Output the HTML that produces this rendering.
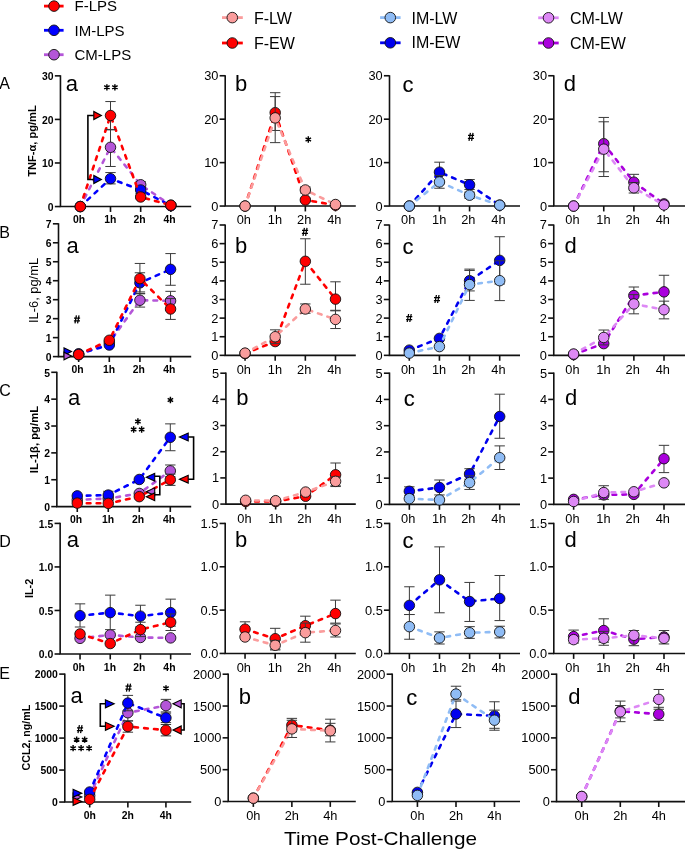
<!DOCTYPE html><html><head><meta charset="utf-8"><style>html,body{margin:0;padding:0;background:#fff;}svg{display:block;will-change:transform;} text{font-family:"Liberation Sans", sans-serif;fill:#000;}</style></head><body>
<svg width="685" height="849" viewBox="0 0 685 849">
<rect width="685" height="849" fill="#fff"/>
<line x1="44" y1="6.1" x2="63.6" y2="6.1" stroke="#ff0000" stroke-width="2.8"/>
<circle cx="54" cy="6.1" r="5.3" fill="#ff0000" stroke="#111" stroke-width="0.9"/>
<text x="74.5" y="11.4" font-size="15">F-LPS</text>
<line x1="44" y1="30.3" x2="63.6" y2="30.3" stroke="#0000ff" stroke-width="2.8"/>
<circle cx="54" cy="30.3" r="5.3" fill="#0000ff" stroke="#111" stroke-width="0.9"/>
<text x="74.5" y="35.6" font-size="15">IM-LPS</text>
<line x1="44" y1="54.7" x2="63.6" y2="54.7" stroke="#b456d8" stroke-width="2.8"/>
<circle cx="54" cy="54.7" r="5.3" fill="#b456d8" stroke="#111" stroke-width="0.9"/>
<text x="74.5" y="60" font-size="15">CM-LPS</text>
<line x1="222" y1="17.6" x2="242.8" y2="17.6" stroke="#fa9c9c" stroke-width="2.8"/>
<circle cx="232.3" cy="17.6" r="5.3" fill="#fa9c9c" stroke="#111" stroke-width="0.9"/>
<text x="253.9" y="23.8" font-size="16">F-LW</text>
<line x1="222" y1="43" x2="242.8" y2="43" stroke="#ff0000" stroke-width="2.8"/>
<circle cx="232.3" cy="43" r="5.3" fill="#ff0000" stroke="#111" stroke-width="0.9"/>
<text x="253.9" y="48.5" font-size="16">F-EW</text>
<line x1="380.1" y1="17.6" x2="400.6" y2="17.6" stroke="#8fbcf5" stroke-width="2.8"/>
<circle cx="390.3" cy="17.6" r="5.3" fill="#8fbcf5" stroke="#111" stroke-width="0.9"/>
<text x="411.5" y="23.8" font-size="16">IM-LW</text>
<line x1="380.1" y1="42.8" x2="400.6" y2="42.8" stroke="#0000ee" stroke-width="2.8"/>
<circle cx="390.3" cy="42.8" r="5.3" fill="#0000ee" stroke="#111" stroke-width="0.9"/>
<text x="411.5" y="48.3" font-size="16">IM-EW</text>
<line x1="538.2" y1="17.8" x2="558.7" y2="17.8" stroke="#dd88f5" stroke-width="2.8"/>
<circle cx="548.5" cy="17.8" r="5.3" fill="#dd88f5" stroke="#111" stroke-width="0.9"/>
<text x="569.9" y="24" font-size="16">CM-LW</text>
<line x1="538.2" y1="43" x2="558.7" y2="43" stroke="#aa00dd" stroke-width="2.8"/>
<circle cx="548.5" cy="43" r="5.3" fill="#aa00dd" stroke="#111" stroke-width="0.9"/>
<text x="569.9" y="48.5" font-size="16">CM-EW</text>
<path d="M60.45 75.25V206.55H191.2" fill="none" stroke="#111" stroke-width="1.6"/>
<line x1="54.85" y1="206.55" x2="60.45" y2="206.55" stroke="#111" stroke-width="1.6"/>
<text x="53.55" y="210.79" font-size="10.4" font-weight="bold" text-anchor="end">0</text>
<line x1="54.85" y1="162.98" x2="60.45" y2="162.98" stroke="#111" stroke-width="1.6"/>
<text x="53.55" y="167.22" font-size="10.4" font-weight="bold" text-anchor="end">10</text>
<line x1="54.85" y1="119.42" x2="60.45" y2="119.42" stroke="#111" stroke-width="1.6"/>
<text x="53.55" y="123.66" font-size="10.4" font-weight="bold" text-anchor="end">20</text>
<line x1="54.85" y1="75.85" x2="60.45" y2="75.85" stroke="#111" stroke-width="1.6"/>
<text x="53.55" y="80.09" font-size="10.4" font-weight="bold" text-anchor="end">30</text>
<line x1="80.32" y1="206.55" x2="80.32" y2="211.95" stroke="#111" stroke-width="1.6"/>
<text x="79.12" y="223.15" font-size="10.4" font-weight="bold" text-anchor="middle">0h</text>
<line x1="110.5" y1="206.55" x2="110.5" y2="211.95" stroke="#111" stroke-width="1.6"/>
<text x="110.2" y="223.15" font-size="10.4" font-weight="bold" text-anchor="middle">1h</text>
<line x1="140.68" y1="206.55" x2="140.68" y2="211.95" stroke="#111" stroke-width="1.6"/>
<text x="139.48" y="223.15" font-size="10.4" font-weight="bold" text-anchor="middle">2h</text>
<line x1="170.86" y1="206.55" x2="170.86" y2="211.95" stroke="#111" stroke-width="1.6"/>
<text x="169.66" y="223.15" font-size="10.4" font-weight="bold" text-anchor="middle">4h</text>
<text x="65.8" y="91.3" font-size="22">a</text>
<path d="M80.32 206.55 L110.5 147.3 L140.68 184.77 L170.86 205.24" fill="none" stroke="#b456d8" stroke-width="2.6" stroke-dasharray="3.7,6.2" stroke-dashoffset="0.4" stroke-linecap="round" stroke-linejoin="round"/>
<path d="M110.5 129.87V166.47M105.3 129.87H115.7M105.3 166.47H115.7" stroke="#3a3a3a" stroke-width="1.0" fill="none"/>
<path d="M140.68 181.72V187.82M135.48 181.72H145.88M135.48 187.82H145.88" stroke="#3a3a3a" stroke-width="1.0" fill="none"/>
<circle cx="80.32" cy="206.55" r="5.25" fill="#b456d8" stroke="#111" stroke-width="0.9"/>
<circle cx="110.5" cy="147.3" r="5.25" fill="#b456d8" stroke="#111" stroke-width="0.9"/>
<circle cx="140.68" cy="184.77" r="5.25" fill="#b456d8" stroke="#111" stroke-width="0.9"/>
<circle cx="170.86" cy="205.24" r="5.25" fill="#b456d8" stroke="#111" stroke-width="0.9"/>
<path d="M80.32 206.55 L110.5 178.67 L140.68 189.99 L170.86 205.68" fill="none" stroke="#0000ff" stroke-width="2.6" stroke-dasharray="3.7,6.2" stroke-dashoffset="0.4" stroke-linecap="round" stroke-linejoin="round"/>
<path d="M110.5 172.57V183.9M105.3 172.57H115.7M105.3 183.9H115.7" stroke="#3a3a3a" stroke-width="1.0" fill="none"/>
<path d="M140.68 186.51V193.48M135.48 186.51H145.88M135.48 193.48H145.88" stroke="#3a3a3a" stroke-width="1.0" fill="none"/>
<circle cx="80.32" cy="206.55" r="5.25" fill="#0000ff" stroke="#111" stroke-width="0.9"/>
<circle cx="110.5" cy="178.67" r="5.25" fill="#0000ff" stroke="#111" stroke-width="0.9"/>
<circle cx="140.68" cy="189.99" r="5.25" fill="#0000ff" stroke="#111" stroke-width="0.9"/>
<circle cx="170.86" cy="205.68" r="5.25" fill="#0000ff" stroke="#111" stroke-width="0.9"/>
<path d="M80.32 206.55 L110.5 115.5 L140.68 196.97 L170.86 205.24" fill="none" stroke="#ff0000" stroke-width="2.6" stroke-dasharray="3.7,6.2" stroke-dashoffset="0.4" stroke-linecap="round" stroke-linejoin="round"/>
<path d="M110.5 101.55V129.44M105.3 101.55H115.7M105.3 129.44H115.7" stroke="#3a3a3a" stroke-width="1.0" fill="none"/>
<path d="M140.68 195.22V198.71M135.48 195.22H145.88M135.48 198.71H145.88" stroke="#3a3a3a" stroke-width="1.0" fill="none"/>
<circle cx="80.32" cy="206.55" r="5.25" fill="#ff0000" stroke="#111" stroke-width="0.9"/>
<circle cx="110.5" cy="115.5" r="5.25" fill="#ff0000" stroke="#111" stroke-width="0.9"/>
<circle cx="140.68" cy="196.97" r="5.25" fill="#ff0000" stroke="#111" stroke-width="0.9"/>
<circle cx="170.86" cy="205.24" r="5.25" fill="#ff0000" stroke="#111" stroke-width="0.9"/>
<path d="M225.2 75.15V206.05H355.8" fill="none" stroke="#111" stroke-width="1.6"/>
<line x1="219.6" y1="206.05" x2="225.2" y2="206.05" stroke="#111" stroke-width="1.6"/>
<text x="218.4" y="210.53" font-size="12.8" font-weight="normal" text-anchor="end">0</text>
<line x1="219.6" y1="162.62" x2="225.2" y2="162.62" stroke="#111" stroke-width="1.6"/>
<text x="218.4" y="167.1" font-size="12.8" font-weight="normal" text-anchor="end">10</text>
<line x1="219.6" y1="119.18" x2="225.2" y2="119.18" stroke="#111" stroke-width="1.6"/>
<text x="218.4" y="123.66" font-size="12.8" font-weight="normal" text-anchor="end">20</text>
<line x1="219.6" y1="75.75" x2="225.2" y2="75.75" stroke="#111" stroke-width="1.6"/>
<text x="218.4" y="80.23" font-size="12.8" font-weight="normal" text-anchor="end">30</text>
<line x1="245.05" y1="206.05" x2="245.05" y2="211.45" stroke="#111" stroke-width="1.6"/>
<text x="243.85" y="224.45" font-size="12.8" font-weight="normal" text-anchor="middle">0h</text>
<line x1="275.19" y1="206.05" x2="275.19" y2="211.45" stroke="#111" stroke-width="1.6"/>
<text x="274.89" y="224.45" font-size="12.8" font-weight="normal" text-anchor="middle">1h</text>
<line x1="305.34" y1="206.05" x2="305.34" y2="211.45" stroke="#111" stroke-width="1.6"/>
<text x="304.14" y="224.45" font-size="12.8" font-weight="normal" text-anchor="middle">2h</text>
<line x1="335.48" y1="206.05" x2="335.48" y2="211.45" stroke="#111" stroke-width="1.6"/>
<text x="334.28" y="224.45" font-size="12.8" font-weight="normal" text-anchor="middle">4h</text>
<text x="235.1" y="91.3" font-size="22">b</text>
<path d="M245.05 206.05 L275.19 112.67 L305.34 199.97 L335.48 205.18" fill="none" stroke="#ff0000" stroke-width="2.6" stroke-dasharray="3.7,6.2" stroke-dashoffset="0.4" stroke-linecap="round" stroke-linejoin="round"/>
<path d="M275.19 92.69V130.48M269.99 92.69H280.39M269.99 130.48H280.39" stroke="#3a3a3a" stroke-width="1.0" fill="none"/>
<path d="M305.34 198.23V201.71M300.14 198.23H310.54M300.14 201.71H310.54" stroke="#3a3a3a" stroke-width="1.0" fill="none"/>
<circle cx="245.05" cy="206.05" r="5.25" fill="#ff0000" stroke="#111" stroke-width="0.9"/>
<circle cx="275.19" cy="112.67" r="5.25" fill="#ff0000" stroke="#111" stroke-width="0.9"/>
<circle cx="305.34" cy="199.97" r="5.25" fill="#ff0000" stroke="#111" stroke-width="0.9"/>
<circle cx="335.48" cy="205.18" r="5.25" fill="#ff0000" stroke="#111" stroke-width="0.9"/>
<path d="M245.05 206.05 L275.19 117.88 L305.34 189.98 L335.48 204.53" fill="none" stroke="#fa9c9c" stroke-width="2.6" stroke-dasharray="3.7,6.2" stroke-dashoffset="0.4" stroke-linecap="round" stroke-linejoin="round"/>
<path d="M275.19 96.6V142.64M269.99 96.6H280.39M269.99 142.64H280.39" stroke="#3a3a3a" stroke-width="1.0" fill="none"/>
<path d="M305.34 186.94V193.02M300.14 186.94H310.54M300.14 193.02H310.54" stroke="#3a3a3a" stroke-width="1.0" fill="none"/>
<circle cx="245.05" cy="206.05" r="5.25" fill="#fa9c9c" stroke="#111" stroke-width="0.9"/>
<circle cx="275.19" cy="117.88" r="5.25" fill="#fa9c9c" stroke="#111" stroke-width="0.9"/>
<circle cx="305.34" cy="189.98" r="5.25" fill="#fa9c9c" stroke="#111" stroke-width="0.9"/>
<circle cx="335.48" cy="204.53" r="5.25" fill="#fa9c9c" stroke="#111" stroke-width="0.9"/>
<path d="M389.5 75.15V206.05H520" fill="none" stroke="#111" stroke-width="1.6"/>
<line x1="383.9" y1="206.05" x2="389.5" y2="206.05" stroke="#111" stroke-width="1.6"/>
<text x="382.7" y="210.53" font-size="12.8" font-weight="normal" text-anchor="end">0</text>
<line x1="383.9" y1="162.62" x2="389.5" y2="162.62" stroke="#111" stroke-width="1.6"/>
<text x="382.7" y="167.1" font-size="12.8" font-weight="normal" text-anchor="end">10</text>
<line x1="383.9" y1="119.18" x2="389.5" y2="119.18" stroke="#111" stroke-width="1.6"/>
<text x="382.7" y="123.66" font-size="12.8" font-weight="normal" text-anchor="end">20</text>
<line x1="383.9" y1="75.75" x2="389.5" y2="75.75" stroke="#111" stroke-width="1.6"/>
<text x="382.7" y="80.23" font-size="12.8" font-weight="normal" text-anchor="end">30</text>
<line x1="409.34" y1="206.05" x2="409.34" y2="211.45" stroke="#111" stroke-width="1.6"/>
<text x="408.14" y="224.45" font-size="12.8" font-weight="normal" text-anchor="middle">0h</text>
<line x1="439.46" y1="206.05" x2="439.46" y2="211.45" stroke="#111" stroke-width="1.6"/>
<text x="439.16" y="224.45" font-size="12.8" font-weight="normal" text-anchor="middle">1h</text>
<line x1="469.57" y1="206.05" x2="469.57" y2="211.45" stroke="#111" stroke-width="1.6"/>
<text x="468.37" y="224.45" font-size="12.8" font-weight="normal" text-anchor="middle">2h</text>
<line x1="499.69" y1="206.05" x2="499.69" y2="211.45" stroke="#111" stroke-width="1.6"/>
<text x="498.49" y="224.45" font-size="12.8" font-weight="normal" text-anchor="middle">4h</text>
<text x="402.4" y="91.8" font-size="22" stroke="#000" stroke-width="0.12">c</text>
<path d="M409.34 206.05 L439.46 172.17 L469.57 184.77 L499.69 205.18" fill="none" stroke="#0000ee" stroke-width="2.6" stroke-dasharray="3.7,6.2" stroke-dashoffset="0.4" stroke-linecap="round" stroke-linejoin="round"/>
<path d="M439.46 162.18V182.16M434.26 162.18H444.66M434.26 182.16H444.66" stroke="#3a3a3a" stroke-width="1.0" fill="none"/>
<path d="M469.57 179.56V189.55M464.37 179.56H474.77M464.37 189.55H474.77" stroke="#3a3a3a" stroke-width="1.0" fill="none"/>
<circle cx="409.34" cy="206.05" r="5.25" fill="#0000ee" stroke="#111" stroke-width="0.9"/>
<circle cx="439.46" cy="172.17" r="5.25" fill="#0000ee" stroke="#111" stroke-width="0.9"/>
<circle cx="469.57" cy="184.77" r="5.25" fill="#0000ee" stroke="#111" stroke-width="0.9"/>
<circle cx="499.69" cy="205.18" r="5.25" fill="#0000ee" stroke="#111" stroke-width="0.9"/>
<path d="M409.34 206.05 L439.46 181.94 L469.57 195.19 L499.69 205.18" fill="none" stroke="#8fbcf5" stroke-width="2.6" stroke-dasharray="3.7,6.2" stroke-dashoffset="0.4" stroke-linecap="round" stroke-linejoin="round"/>
<path d="M439.46 175.65V188.24M434.26 175.65H444.66M434.26 188.24H444.66" stroke="#3a3a3a" stroke-width="1.0" fill="none"/>
<path d="M469.57 192.15V198.23M464.37 192.15H474.77M464.37 198.23H474.77" stroke="#3a3a3a" stroke-width="1.0" fill="none"/>
<circle cx="409.34" cy="206.05" r="5.25" fill="#8fbcf5" stroke="#111" stroke-width="0.9"/>
<circle cx="439.46" cy="181.94" r="5.25" fill="#8fbcf5" stroke="#111" stroke-width="0.9"/>
<circle cx="469.57" cy="195.19" r="5.25" fill="#8fbcf5" stroke="#111" stroke-width="0.9"/>
<circle cx="499.69" cy="205.18" r="5.25" fill="#8fbcf5" stroke="#111" stroke-width="0.9"/>
<path d="M553.8 75.15V206.05H686" fill="none" stroke="#111" stroke-width="1.6"/>
<line x1="548.2" y1="206.05" x2="553.8" y2="206.05" stroke="#111" stroke-width="1.6"/>
<text x="547" y="210.53" font-size="12.8" font-weight="normal" text-anchor="end">0</text>
<line x1="548.2" y1="162.62" x2="553.8" y2="162.62" stroke="#111" stroke-width="1.6"/>
<text x="547" y="167.1" font-size="12.8" font-weight="normal" text-anchor="end">10</text>
<line x1="548.2" y1="119.18" x2="553.8" y2="119.18" stroke="#111" stroke-width="1.6"/>
<text x="547" y="123.66" font-size="12.8" font-weight="normal" text-anchor="end">20</text>
<line x1="548.2" y1="75.75" x2="553.8" y2="75.75" stroke="#111" stroke-width="1.6"/>
<text x="547" y="80.23" font-size="12.8" font-weight="normal" text-anchor="end">30</text>
<line x1="573.64" y1="206.05" x2="573.64" y2="211.45" stroke="#111" stroke-width="1.6"/>
<text x="572.44" y="224.45" font-size="12.8" font-weight="normal" text-anchor="middle">0h</text>
<line x1="603.76" y1="206.05" x2="603.76" y2="211.45" stroke="#111" stroke-width="1.6"/>
<text x="603.46" y="224.45" font-size="12.8" font-weight="normal" text-anchor="middle">1h</text>
<line x1="633.87" y1="206.05" x2="633.87" y2="211.45" stroke="#111" stroke-width="1.6"/>
<text x="632.67" y="224.45" font-size="12.8" font-weight="normal" text-anchor="middle">2h</text>
<line x1="663.99" y1="206.05" x2="663.99" y2="211.45" stroke="#111" stroke-width="1.6"/>
<text x="662.79" y="224.45" font-size="12.8" font-weight="normal" text-anchor="middle">4h</text>
<text x="563.8" y="91" font-size="22">d</text>
<path d="M573.64 206.05 L603.76 143.72 L633.87 182.16 L663.99 203.88" fill="none" stroke="#aa00dd" stroke-width="2.6" stroke-dasharray="3.7,6.2" stroke-dashoffset="0.4" stroke-linecap="round" stroke-linejoin="round"/>
<path d="M603.76 117.45V171.74M598.56 117.45H608.96M598.56 171.74H608.96" stroke="#3a3a3a" stroke-width="1.0" fill="none"/>
<path d="M633.87 174.34V189.98M628.67 174.34H639.07M628.67 189.98H639.07" stroke="#3a3a3a" stroke-width="1.0" fill="none"/>
<circle cx="573.64" cy="206.05" r="5.25" fill="#aa00dd" stroke="#111" stroke-width="0.9"/>
<circle cx="603.76" cy="143.72" r="5.25" fill="#aa00dd" stroke="#111" stroke-width="0.9"/>
<circle cx="633.87" cy="182.16" r="5.25" fill="#aa00dd" stroke="#111" stroke-width="0.9"/>
<circle cx="663.99" cy="203.88" r="5.25" fill="#aa00dd" stroke="#111" stroke-width="0.9"/>
<path d="M573.64 206.05 L603.76 149.15 L633.87 187.81 L663.99 204.96" fill="none" stroke="#dd88f5" stroke-width="2.6" stroke-dasharray="3.7,6.2" stroke-dashoffset="0.4" stroke-linecap="round" stroke-linejoin="round"/>
<path d="M603.76 121.79V176.52M598.56 121.79H608.96M598.56 176.52H608.96" stroke="#3a3a3a" stroke-width="1.0" fill="none"/>
<path d="M633.87 182.6V193.02M628.67 182.6H639.07M628.67 193.02H639.07" stroke="#3a3a3a" stroke-width="1.0" fill="none"/>
<circle cx="573.64" cy="206.05" r="5.25" fill="#dd88f5" stroke="#111" stroke-width="0.9"/>
<circle cx="603.76" cy="149.15" r="5.25" fill="#dd88f5" stroke="#111" stroke-width="0.9"/>
<circle cx="633.87" cy="187.81" r="5.25" fill="#dd88f5" stroke="#111" stroke-width="0.9"/>
<circle cx="663.99" cy="204.96" r="5.25" fill="#dd88f5" stroke="#111" stroke-width="0.9"/>
<path d="M58.5 223.2V356.6H191.2" fill="none" stroke="#111" stroke-width="1.6"/>
<line x1="52.9" y1="356.6" x2="58.5" y2="356.6" stroke="#111" stroke-width="1.6"/>
<text x="51.6" y="360.84" font-size="10.4" font-weight="bold" text-anchor="end">0</text>
<line x1="52.9" y1="337.63" x2="58.5" y2="337.63" stroke="#111" stroke-width="1.6"/>
<text x="51.6" y="341.87" font-size="10.4" font-weight="bold" text-anchor="end">1</text>
<line x1="52.9" y1="318.66" x2="58.5" y2="318.66" stroke="#111" stroke-width="1.6"/>
<text x="51.6" y="322.9" font-size="10.4" font-weight="bold" text-anchor="end">2</text>
<line x1="52.9" y1="299.69" x2="58.5" y2="299.69" stroke="#111" stroke-width="1.6"/>
<text x="51.6" y="303.93" font-size="10.4" font-weight="bold" text-anchor="end">3</text>
<line x1="52.9" y1="280.71" x2="58.5" y2="280.71" stroke="#111" stroke-width="1.6"/>
<text x="51.6" y="284.95" font-size="10.4" font-weight="bold" text-anchor="end">4</text>
<line x1="52.9" y1="261.74" x2="58.5" y2="261.74" stroke="#111" stroke-width="1.6"/>
<text x="51.6" y="265.98" font-size="10.4" font-weight="bold" text-anchor="end">5</text>
<line x1="52.9" y1="242.77" x2="58.5" y2="242.77" stroke="#111" stroke-width="1.6"/>
<text x="51.6" y="247.01" font-size="10.4" font-weight="bold" text-anchor="end">6</text>
<line x1="52.9" y1="223.8" x2="58.5" y2="223.8" stroke="#111" stroke-width="1.6"/>
<text x="51.6" y="228.04" font-size="10.4" font-weight="bold" text-anchor="end">7</text>
<line x1="78.67" y1="356.6" x2="78.67" y2="362" stroke="#111" stroke-width="1.6"/>
<text x="77.47" y="373.2" font-size="10.4" font-weight="bold" text-anchor="middle">0h</text>
<line x1="109.3" y1="356.6" x2="109.3" y2="362" stroke="#111" stroke-width="1.6"/>
<text x="109" y="373.2" font-size="10.4" font-weight="bold" text-anchor="middle">1h</text>
<line x1="139.92" y1="356.6" x2="139.92" y2="362" stroke="#111" stroke-width="1.6"/>
<text x="138.72" y="373.2" font-size="10.4" font-weight="bold" text-anchor="middle">2h</text>
<line x1="170.55" y1="356.6" x2="170.55" y2="362" stroke="#111" stroke-width="1.6"/>
<text x="169.35" y="373.2" font-size="10.4" font-weight="bold" text-anchor="middle">4h</text>
<text x="66.6" y="252.7" font-size="22">a</text>
<path d="M78.67 354.7 L109.3 342.37 L139.92 300.25 L170.55 300.82" fill="none" stroke="#b456d8" stroke-width="2.6" stroke-dasharray="3.7,6.2" stroke-dashoffset="0.4" stroke-linecap="round" stroke-linejoin="round"/>
<path d="M139.92 293.43V307.08M134.72 293.43H145.12M134.72 307.08H145.12" stroke="#3a3a3a" stroke-width="1.0" fill="none"/>
<path d="M170.55 291.34V310.31M165.35 291.34H175.75M165.35 310.31H175.75" stroke="#3a3a3a" stroke-width="1.0" fill="none"/>
<circle cx="78.67" cy="354.7" r="5.25" fill="#b456d8" stroke="#111" stroke-width="0.9"/>
<circle cx="109.3" cy="342.37" r="5.25" fill="#b456d8" stroke="#111" stroke-width="0.9"/>
<circle cx="139.92" cy="300.25" r="5.25" fill="#b456d8" stroke="#111" stroke-width="0.9"/>
<circle cx="170.55" cy="300.82" r="5.25" fill="#b456d8" stroke="#111" stroke-width="0.9"/>
<path d="M78.67 353.75 L109.3 345.03 L139.92 282.8 L170.55 269.33" fill="none" stroke="#0000ff" stroke-width="2.6" stroke-dasharray="3.7,6.2" stroke-dashoffset="0.4" stroke-linecap="round" stroke-linejoin="round"/>
<path d="M139.92 272.75V291.91M134.72 272.75H145.12M134.72 291.91H145.12" stroke="#3a3a3a" stroke-width="1.0" fill="none"/>
<path d="M170.55 253.59V285.27M165.35 253.59H175.75M165.35 285.27H175.75" stroke="#3a3a3a" stroke-width="1.0" fill="none"/>
<circle cx="78.67" cy="353.75" r="5.25" fill="#0000ff" stroke="#111" stroke-width="0.9"/>
<circle cx="109.3" cy="345.03" r="5.25" fill="#0000ff" stroke="#111" stroke-width="0.9"/>
<circle cx="139.92" cy="282.8" r="5.25" fill="#0000ff" stroke="#111" stroke-width="0.9"/>
<circle cx="170.55" cy="269.33" r="5.25" fill="#0000ff" stroke="#111" stroke-width="0.9"/>
<path d="M78.67 354.51 L109.3 340.28 L139.92 278.63 L170.55 308.98" fill="none" stroke="#ff0000" stroke-width="2.6" stroke-dasharray="3.7,6.2" stroke-dashoffset="0.4" stroke-linecap="round" stroke-linejoin="round"/>
<path d="M139.92 263.45V293.8M134.72 263.45H145.12M134.72 293.8H145.12" stroke="#3a3a3a" stroke-width="1.0" fill="none"/>
<path d="M170.55 298.55V319.42M165.35 298.55H175.75M165.35 319.42H175.75" stroke="#3a3a3a" stroke-width="1.0" fill="none"/>
<circle cx="78.67" cy="354.51" r="5.25" fill="#ff0000" stroke="#111" stroke-width="0.9"/>
<circle cx="109.3" cy="340.28" r="5.25" fill="#ff0000" stroke="#111" stroke-width="0.9"/>
<circle cx="139.92" cy="278.63" r="5.25" fill="#ff0000" stroke="#111" stroke-width="0.9"/>
<circle cx="170.55" cy="308.98" r="5.25" fill="#ff0000" stroke="#111" stroke-width="0.9"/>
<path d="M225.2 224.4V355.35H355.8" fill="none" stroke="#111" stroke-width="1.6"/>
<line x1="219.6" y1="355.35" x2="225.2" y2="355.35" stroke="#111" stroke-width="1.6"/>
<text x="218.4" y="359.83" font-size="12.8" font-weight="normal" text-anchor="end">0</text>
<line x1="219.6" y1="336.73" x2="225.2" y2="336.73" stroke="#111" stroke-width="1.6"/>
<text x="218.4" y="341.21" font-size="12.8" font-weight="normal" text-anchor="end">1</text>
<line x1="219.6" y1="318.11" x2="225.2" y2="318.11" stroke="#111" stroke-width="1.6"/>
<text x="218.4" y="322.59" font-size="12.8" font-weight="normal" text-anchor="end">2</text>
<line x1="219.6" y1="299.49" x2="225.2" y2="299.49" stroke="#111" stroke-width="1.6"/>
<text x="218.4" y="303.97" font-size="12.8" font-weight="normal" text-anchor="end">3</text>
<line x1="219.6" y1="280.86" x2="225.2" y2="280.86" stroke="#111" stroke-width="1.6"/>
<text x="218.4" y="285.34" font-size="12.8" font-weight="normal" text-anchor="end">4</text>
<line x1="219.6" y1="262.24" x2="225.2" y2="262.24" stroke="#111" stroke-width="1.6"/>
<text x="218.4" y="266.72" font-size="12.8" font-weight="normal" text-anchor="end">5</text>
<line x1="219.6" y1="243.62" x2="225.2" y2="243.62" stroke="#111" stroke-width="1.6"/>
<text x="218.4" y="248.1" font-size="12.8" font-weight="normal" text-anchor="end">6</text>
<line x1="219.6" y1="225" x2="225.2" y2="225" stroke="#111" stroke-width="1.6"/>
<text x="218.4" y="229.48" font-size="12.8" font-weight="normal" text-anchor="end">7</text>
<line x1="245.05" y1="355.35" x2="245.05" y2="360.75" stroke="#111" stroke-width="1.6"/>
<text x="243.85" y="373.75" font-size="12.8" font-weight="normal" text-anchor="middle">0h</text>
<line x1="275.19" y1="355.35" x2="275.19" y2="360.75" stroke="#111" stroke-width="1.6"/>
<text x="274.89" y="373.75" font-size="12.8" font-weight="normal" text-anchor="middle">1h</text>
<line x1="305.34" y1="355.35" x2="305.34" y2="360.75" stroke="#111" stroke-width="1.6"/>
<text x="304.14" y="373.75" font-size="12.8" font-weight="normal" text-anchor="middle">2h</text>
<line x1="335.48" y1="355.35" x2="335.48" y2="360.75" stroke="#111" stroke-width="1.6"/>
<text x="334.28" y="373.75" font-size="12.8" font-weight="normal" text-anchor="middle">4h</text>
<text x="235.1" y="252.7" font-size="22">b</text>
<path d="M245.05 353.49 L275.19 341.57 L305.34 261.31 L335.48 299.11" fill="none" stroke="#ff0000" stroke-width="2.6" stroke-dasharray="3.7,6.2" stroke-dashoffset="0.4" stroke-linecap="round" stroke-linejoin="round"/>
<path d="M305.34 238.78V284.22M300.14 238.78H310.54M300.14 284.22H310.54" stroke="#3a3a3a" stroke-width="1.0" fill="none"/>
<path d="M335.48 281.8V310.84M330.28 281.8H340.68M330.28 310.84H340.68" stroke="#3a3a3a" stroke-width="1.0" fill="none"/>
<circle cx="245.05" cy="353.49" r="5.25" fill="#ff0000" stroke="#111" stroke-width="0.9"/>
<circle cx="275.19" cy="341.57" r="5.25" fill="#ff0000" stroke="#111" stroke-width="0.9"/>
<circle cx="305.34" cy="261.31" r="5.25" fill="#ff0000" stroke="#111" stroke-width="0.9"/>
<circle cx="335.48" cy="299.11" r="5.25" fill="#ff0000" stroke="#111" stroke-width="0.9"/>
<path d="M245.05 353.12 L275.19 336.73 L305.34 308.98 L335.48 319.41" fill="none" stroke="#fa9c9c" stroke-width="2.6" stroke-dasharray="3.7,6.2" stroke-dashoffset="0.4" stroke-linecap="round" stroke-linejoin="round"/>
<path d="M275.19 329.84V343.62M269.99 329.84H280.39M269.99 343.62H280.39" stroke="#3a3a3a" stroke-width="1.0" fill="none"/>
<path d="M305.34 303.95V313.27M300.14 303.95H310.54M300.14 313.27H310.54" stroke="#3a3a3a" stroke-width="1.0" fill="none"/>
<path d="M335.48 310.29V328.54M330.28 310.29H340.68M330.28 328.54H340.68" stroke="#3a3a3a" stroke-width="1.0" fill="none"/>
<circle cx="245.05" cy="353.12" r="5.25" fill="#fa9c9c" stroke="#111" stroke-width="0.9"/>
<circle cx="275.19" cy="336.73" r="5.25" fill="#fa9c9c" stroke="#111" stroke-width="0.9"/>
<circle cx="305.34" cy="308.98" r="5.25" fill="#fa9c9c" stroke="#111" stroke-width="0.9"/>
<circle cx="335.48" cy="319.41" r="5.25" fill="#fa9c9c" stroke="#111" stroke-width="0.9"/>
<path d="M389.45 224.4V355.35H520" fill="none" stroke="#111" stroke-width="1.6"/>
<line x1="383.85" y1="355.35" x2="389.45" y2="355.35" stroke="#111" stroke-width="1.6"/>
<text x="382.65" y="359.83" font-size="12.8" font-weight="normal" text-anchor="end">0</text>
<line x1="383.85" y1="336.73" x2="389.45" y2="336.73" stroke="#111" stroke-width="1.6"/>
<text x="382.65" y="341.21" font-size="12.8" font-weight="normal" text-anchor="end">1</text>
<line x1="383.85" y1="318.11" x2="389.45" y2="318.11" stroke="#111" stroke-width="1.6"/>
<text x="382.65" y="322.59" font-size="12.8" font-weight="normal" text-anchor="end">2</text>
<line x1="383.85" y1="299.49" x2="389.45" y2="299.49" stroke="#111" stroke-width="1.6"/>
<text x="382.65" y="303.97" font-size="12.8" font-weight="normal" text-anchor="end">3</text>
<line x1="383.85" y1="280.86" x2="389.45" y2="280.86" stroke="#111" stroke-width="1.6"/>
<text x="382.65" y="285.34" font-size="12.8" font-weight="normal" text-anchor="end">4</text>
<line x1="383.85" y1="262.24" x2="389.45" y2="262.24" stroke="#111" stroke-width="1.6"/>
<text x="382.65" y="266.72" font-size="12.8" font-weight="normal" text-anchor="end">5</text>
<line x1="383.85" y1="243.62" x2="389.45" y2="243.62" stroke="#111" stroke-width="1.6"/>
<text x="382.65" y="248.1" font-size="12.8" font-weight="normal" text-anchor="end">6</text>
<line x1="383.85" y1="225" x2="389.45" y2="225" stroke="#111" stroke-width="1.6"/>
<text x="382.65" y="229.48" font-size="12.8" font-weight="normal" text-anchor="end">7</text>
<line x1="409.29" y1="355.35" x2="409.29" y2="360.75" stroke="#111" stroke-width="1.6"/>
<text x="408.09" y="373.75" font-size="12.8" font-weight="normal" text-anchor="middle">0h</text>
<line x1="439.42" y1="355.35" x2="439.42" y2="360.75" stroke="#111" stroke-width="1.6"/>
<text x="439.12" y="373.75" font-size="12.8" font-weight="normal" text-anchor="middle">1h</text>
<line x1="469.56" y1="355.35" x2="469.56" y2="360.75" stroke="#111" stroke-width="1.6"/>
<text x="468.36" y="373.75" font-size="12.8" font-weight="normal" text-anchor="middle">2h</text>
<line x1="499.69" y1="355.35" x2="499.69" y2="360.75" stroke="#111" stroke-width="1.6"/>
<text x="498.49" y="373.75" font-size="12.8" font-weight="normal" text-anchor="middle">4h</text>
<text x="402.6" y="253.5" font-size="22" stroke="#000" stroke-width="0.12">c</text>
<path d="M409.29 350.14 L439.42 338.4 L469.56 280.68 L499.69 260.38" fill="none" stroke="#0000ee" stroke-width="2.6" stroke-dasharray="3.7,6.2" stroke-dashoffset="0.4" stroke-linecap="round" stroke-linejoin="round"/>
<path d="M469.56 270.44V290.92M464.36 270.44H474.76M464.36 290.92H474.76" stroke="#3a3a3a" stroke-width="1.0" fill="none"/>
<path d="M499.69 236.73V284.03M494.49 236.73H504.89M494.49 284.03H504.89" stroke="#3a3a3a" stroke-width="1.0" fill="none"/>
<circle cx="409.29" cy="350.14" r="5.25" fill="#0000ee" stroke="#111" stroke-width="0.9"/>
<circle cx="439.42" cy="338.4" r="5.25" fill="#0000ee" stroke="#111" stroke-width="0.9"/>
<circle cx="469.56" cy="280.68" r="5.25" fill="#0000ee" stroke="#111" stroke-width="0.9"/>
<circle cx="499.69" cy="260.38" r="5.25" fill="#0000ee" stroke="#111" stroke-width="0.9"/>
<path d="M409.29 353.12 L439.42 346.6 L469.56 284.59 L499.69 280.68" fill="none" stroke="#8fbcf5" stroke-width="2.6" stroke-dasharray="3.7,6.2" stroke-dashoffset="0.4" stroke-linecap="round" stroke-linejoin="round"/>
<path d="M469.56 269.13V300.42M464.36 269.13H474.76M464.36 300.42H474.76" stroke="#3a3a3a" stroke-width="1.0" fill="none"/>
<path d="M499.69 260.75V300.6M494.49 260.75H504.89M494.49 300.6H504.89" stroke="#3a3a3a" stroke-width="1.0" fill="none"/>
<circle cx="409.29" cy="353.12" r="5.25" fill="#8fbcf5" stroke="#111" stroke-width="0.9"/>
<circle cx="439.42" cy="346.6" r="5.25" fill="#8fbcf5" stroke="#111" stroke-width="0.9"/>
<circle cx="469.56" cy="284.59" r="5.25" fill="#8fbcf5" stroke="#111" stroke-width="0.9"/>
<circle cx="499.69" cy="280.68" r="5.25" fill="#8fbcf5" stroke="#111" stroke-width="0.9"/>
<path d="M553.75 224.4V355.35H686" fill="none" stroke="#111" stroke-width="1.6"/>
<line x1="548.15" y1="355.35" x2="553.75" y2="355.35" stroke="#111" stroke-width="1.6"/>
<text x="546.95" y="359.83" font-size="12.8" font-weight="normal" text-anchor="end">0</text>
<line x1="548.15" y1="336.73" x2="553.75" y2="336.73" stroke="#111" stroke-width="1.6"/>
<text x="546.95" y="341.21" font-size="12.8" font-weight="normal" text-anchor="end">1</text>
<line x1="548.15" y1="318.11" x2="553.75" y2="318.11" stroke="#111" stroke-width="1.6"/>
<text x="546.95" y="322.59" font-size="12.8" font-weight="normal" text-anchor="end">2</text>
<line x1="548.15" y1="299.49" x2="553.75" y2="299.49" stroke="#111" stroke-width="1.6"/>
<text x="546.95" y="303.97" font-size="12.8" font-weight="normal" text-anchor="end">3</text>
<line x1="548.15" y1="280.86" x2="553.75" y2="280.86" stroke="#111" stroke-width="1.6"/>
<text x="546.95" y="285.34" font-size="12.8" font-weight="normal" text-anchor="end">4</text>
<line x1="548.15" y1="262.24" x2="553.75" y2="262.24" stroke="#111" stroke-width="1.6"/>
<text x="546.95" y="266.72" font-size="12.8" font-weight="normal" text-anchor="end">5</text>
<line x1="548.15" y1="243.62" x2="553.75" y2="243.62" stroke="#111" stroke-width="1.6"/>
<text x="546.95" y="248.1" font-size="12.8" font-weight="normal" text-anchor="end">6</text>
<line x1="548.15" y1="225" x2="553.75" y2="225" stroke="#111" stroke-width="1.6"/>
<text x="546.95" y="229.48" font-size="12.8" font-weight="normal" text-anchor="end">7</text>
<line x1="573.59" y1="355.35" x2="573.59" y2="360.75" stroke="#111" stroke-width="1.6"/>
<text x="572.39" y="373.75" font-size="12.8" font-weight="normal" text-anchor="middle">0h</text>
<line x1="603.72" y1="355.35" x2="603.72" y2="360.75" stroke="#111" stroke-width="1.6"/>
<text x="603.42" y="373.75" font-size="12.8" font-weight="normal" text-anchor="middle">1h</text>
<line x1="633.86" y1="355.35" x2="633.86" y2="360.75" stroke="#111" stroke-width="1.6"/>
<text x="632.66" y="373.75" font-size="12.8" font-weight="normal" text-anchor="middle">2h</text>
<line x1="663.99" y1="355.35" x2="663.99" y2="360.75" stroke="#111" stroke-width="1.6"/>
<text x="662.79" y="373.75" font-size="12.8" font-weight="normal" text-anchor="middle">4h</text>
<text x="564.6" y="252.7" font-size="22">d</text>
<path d="M573.59 354.42 L603.72 343.62 L633.86 295.58 L663.99 291.85" fill="none" stroke="#aa00dd" stroke-width="2.6" stroke-dasharray="3.7,6.2" stroke-dashoffset="0.4" stroke-linecap="round" stroke-linejoin="round"/>
<path d="M633.86 287.01V304.14M628.66 287.01H639.06M628.66 304.14H639.06" stroke="#3a3a3a" stroke-width="1.0" fill="none"/>
<path d="M663.99 275.28V308.42M658.79 275.28H669.19M658.79 308.42H669.19" stroke="#3a3a3a" stroke-width="1.0" fill="none"/>
<circle cx="573.59" cy="354.42" r="5.25" fill="#aa00dd" stroke="#111" stroke-width="0.9"/>
<circle cx="603.72" cy="343.62" r="5.25" fill="#aa00dd" stroke="#111" stroke-width="0.9"/>
<circle cx="633.86" cy="295.58" r="5.25" fill="#aa00dd" stroke="#111" stroke-width="0.9"/>
<circle cx="663.99" cy="291.85" r="5.25" fill="#aa00dd" stroke="#111" stroke-width="0.9"/>
<path d="M573.59 354.05 L603.72 337.47 L633.86 303.95 L663.99 309.73" fill="none" stroke="#dd88f5" stroke-width="2.6" stroke-dasharray="3.7,6.2" stroke-dashoffset="0.4" stroke-linecap="round" stroke-linejoin="round"/>
<path d="M603.72 330.02V344.92M598.52 330.02H608.92M598.52 344.92H608.92" stroke="#3a3a3a" stroke-width="1.0" fill="none"/>
<path d="M633.86 294.64V313.82M628.66 294.64H639.06M628.66 313.82H639.06" stroke="#3a3a3a" stroke-width="1.0" fill="none"/>
<path d="M663.99 301.16V318.85M658.79 301.16H669.19M658.79 318.85H669.19" stroke="#3a3a3a" stroke-width="1.0" fill="none"/>
<circle cx="573.59" cy="354.05" r="5.25" fill="#dd88f5" stroke="#111" stroke-width="0.9"/>
<circle cx="603.72" cy="337.47" r="5.25" fill="#dd88f5" stroke="#111" stroke-width="0.9"/>
<circle cx="633.86" cy="303.95" r="5.25" fill="#dd88f5" stroke="#111" stroke-width="0.9"/>
<circle cx="663.99" cy="309.73" r="5.25" fill="#dd88f5" stroke="#111" stroke-width="0.9"/>
<path d="M56.85 371.7V506.6H191.2" fill="none" stroke="#111" stroke-width="1.6"/>
<line x1="51.25" y1="506.6" x2="56.85" y2="506.6" stroke="#111" stroke-width="1.6"/>
<text x="49.95" y="510.84" font-size="10.4" font-weight="bold" text-anchor="end">0</text>
<line x1="51.25" y1="479.74" x2="56.85" y2="479.74" stroke="#111" stroke-width="1.6"/>
<text x="49.95" y="483.98" font-size="10.4" font-weight="bold" text-anchor="end">1</text>
<line x1="51.25" y1="452.88" x2="56.85" y2="452.88" stroke="#111" stroke-width="1.6"/>
<text x="49.95" y="457.12" font-size="10.4" font-weight="bold" text-anchor="end">2</text>
<line x1="51.25" y1="426.02" x2="56.85" y2="426.02" stroke="#111" stroke-width="1.6"/>
<text x="49.95" y="430.26" font-size="10.4" font-weight="bold" text-anchor="end">3</text>
<line x1="51.25" y1="399.16" x2="56.85" y2="399.16" stroke="#111" stroke-width="1.6"/>
<text x="49.95" y="403.4" font-size="10.4" font-weight="bold" text-anchor="end">4</text>
<line x1="51.25" y1="372.3" x2="56.85" y2="372.3" stroke="#111" stroke-width="1.6"/>
<text x="49.95" y="376.54" font-size="10.4" font-weight="bold" text-anchor="end">5</text>
<line x1="77.27" y1="506.6" x2="77.27" y2="512" stroke="#111" stroke-width="1.6"/>
<text x="76.07" y="523.2" font-size="10.4" font-weight="bold" text-anchor="middle">0h</text>
<line x1="108.28" y1="506.6" x2="108.28" y2="512" stroke="#111" stroke-width="1.6"/>
<text x="107.98" y="523.2" font-size="10.4" font-weight="bold" text-anchor="middle">1h</text>
<line x1="139.29" y1="506.6" x2="139.29" y2="512" stroke="#111" stroke-width="1.6"/>
<text x="138.09" y="523.2" font-size="10.4" font-weight="bold" text-anchor="middle">2h</text>
<line x1="170.3" y1="506.6" x2="170.3" y2="512" stroke="#111" stroke-width="1.6"/>
<text x="169.1" y="523.2" font-size="10.4" font-weight="bold" text-anchor="middle">4h</text>
<text x="68" y="404.9" font-size="22">a</text>
<path d="M77.27 499.89 L108.28 498.54 L139.29 493.44 L170.3 470.88" fill="none" stroke="#b456d8" stroke-width="2.6" stroke-dasharray="3.7,6.2" stroke-dashoffset="0.4" stroke-linecap="round" stroke-linejoin="round"/>
<path d="M170.3 464.97V476.79M165.1 464.97H175.5M165.1 476.79H175.5" stroke="#3a3a3a" stroke-width="1.0" fill="none"/>
<circle cx="77.27" cy="499.89" r="5.25" fill="#b456d8" stroke="#111" stroke-width="0.9"/>
<circle cx="108.28" cy="498.54" r="5.25" fill="#b456d8" stroke="#111" stroke-width="0.9"/>
<circle cx="139.29" cy="493.44" r="5.25" fill="#b456d8" stroke="#111" stroke-width="0.9"/>
<circle cx="170.3" cy="470.88" r="5.25" fill="#b456d8" stroke="#111" stroke-width="0.9"/>
<path d="M77.27 495.86 L108.28 495.05 L139.29 479.47 L170.3 437.3" fill="none" stroke="#0000ff" stroke-width="2.6" stroke-dasharray="3.7,6.2" stroke-dashoffset="0.4" stroke-linecap="round" stroke-linejoin="round"/>
<path d="M108.28 491.29V498.81M103.08 491.29H113.48M103.08 498.81H113.48" stroke="#3a3a3a" stroke-width="1.0" fill="none"/>
<path d="M170.3 423.87V450.73M165.1 423.87H175.5M165.1 450.73H175.5" stroke="#3a3a3a" stroke-width="1.0" fill="none"/>
<circle cx="77.27" cy="495.86" r="5.25" fill="#0000ff" stroke="#111" stroke-width="0.9"/>
<circle cx="108.28" cy="495.05" r="5.25" fill="#0000ff" stroke="#111" stroke-width="0.9"/>
<circle cx="139.29" cy="479.47" r="5.25" fill="#0000ff" stroke="#111" stroke-width="0.9"/>
<circle cx="170.3" cy="437.3" r="5.25" fill="#0000ff" stroke="#111" stroke-width="0.9"/>
<path d="M77.27 503.11 L108.28 503.38 L139.29 496.66 L170.3 479.74" fill="none" stroke="#ff0000" stroke-width="2.6" stroke-dasharray="3.7,6.2" stroke-dashoffset="0.4" stroke-linecap="round" stroke-linejoin="round"/>
<path d="M170.3 474.1V485.38M165.1 474.1H175.5M165.1 485.38H175.5" stroke="#3a3a3a" stroke-width="1.0" fill="none"/>
<circle cx="77.27" cy="503.11" r="5.25" fill="#ff0000" stroke="#111" stroke-width="0.9"/>
<circle cx="108.28" cy="503.38" r="5.25" fill="#ff0000" stroke="#111" stroke-width="0.9"/>
<circle cx="139.29" cy="496.66" r="5.25" fill="#ff0000" stroke="#111" stroke-width="0.9"/>
<circle cx="170.3" cy="479.74" r="5.25" fill="#ff0000" stroke="#111" stroke-width="0.9"/>
<path d="M225.9 372.6V504.1H355.8" fill="none" stroke="#111" stroke-width="1.6"/>
<line x1="220.3" y1="504.1" x2="225.9" y2="504.1" stroke="#111" stroke-width="1.6"/>
<text x="219.1" y="508.58" font-size="12.8" font-weight="normal" text-anchor="end">0</text>
<line x1="220.3" y1="477.92" x2="225.9" y2="477.92" stroke="#111" stroke-width="1.6"/>
<text x="219.1" y="482.4" font-size="12.8" font-weight="normal" text-anchor="end">1</text>
<line x1="220.3" y1="451.74" x2="225.9" y2="451.74" stroke="#111" stroke-width="1.6"/>
<text x="219.1" y="456.22" font-size="12.8" font-weight="normal" text-anchor="end">2</text>
<line x1="220.3" y1="425.56" x2="225.9" y2="425.56" stroke="#111" stroke-width="1.6"/>
<text x="219.1" y="430.04" font-size="12.8" font-weight="normal" text-anchor="end">3</text>
<line x1="220.3" y1="399.38" x2="225.9" y2="399.38" stroke="#111" stroke-width="1.6"/>
<text x="219.1" y="403.86" font-size="12.8" font-weight="normal" text-anchor="end">4</text>
<line x1="220.3" y1="373.2" x2="225.9" y2="373.2" stroke="#111" stroke-width="1.6"/>
<text x="219.1" y="377.68" font-size="12.8" font-weight="normal" text-anchor="end">5</text>
<line x1="245.64" y1="504.1" x2="245.64" y2="509.5" stroke="#111" stroke-width="1.6"/>
<text x="244.44" y="522.5" font-size="12.8" font-weight="normal" text-anchor="middle">0h</text>
<line x1="275.63" y1="504.1" x2="275.63" y2="509.5" stroke="#111" stroke-width="1.6"/>
<text x="275.33" y="522.5" font-size="12.8" font-weight="normal" text-anchor="middle">1h</text>
<line x1="305.61" y1="504.1" x2="305.61" y2="509.5" stroke="#111" stroke-width="1.6"/>
<text x="304.41" y="522.5" font-size="12.8" font-weight="normal" text-anchor="middle">2h</text>
<line x1="335.59" y1="504.1" x2="335.59" y2="509.5" stroke="#111" stroke-width="1.6"/>
<text x="334.39" y="522.5" font-size="12.8" font-weight="normal" text-anchor="middle">4h</text>
<text x="236.3" y="404.7" font-size="22">b</text>
<path d="M245.64 501.48 L275.63 501.48 L305.61 496.25 L335.59 474.78" fill="none" stroke="#ff0000" stroke-width="2.6" stroke-dasharray="3.7,6.2" stroke-dashoffset="0.4" stroke-linecap="round" stroke-linejoin="round"/>
<path d="M335.59 463V486.56M330.39 463H340.79M330.39 486.56H340.79" stroke="#3a3a3a" stroke-width="1.0" fill="none"/>
<circle cx="245.64" cy="501.48" r="5.25" fill="#ff0000" stroke="#111" stroke-width="0.9"/>
<circle cx="275.63" cy="501.48" r="5.25" fill="#ff0000" stroke="#111" stroke-width="0.9"/>
<circle cx="305.61" cy="496.25" r="5.25" fill="#ff0000" stroke="#111" stroke-width="0.9"/>
<circle cx="335.59" cy="474.78" r="5.25" fill="#ff0000" stroke="#111" stroke-width="0.9"/>
<path d="M245.64 500.3 L275.63 500.7 L305.61 492.06 L335.59 481.32" fill="none" stroke="#fa9c9c" stroke-width="2.6" stroke-dasharray="3.7,6.2" stroke-dashoffset="0.4" stroke-linecap="round" stroke-linejoin="round"/>
<path d="M335.59 476.87V485.77M330.39 476.87H340.79M330.39 485.77H340.79" stroke="#3a3a3a" stroke-width="1.0" fill="none"/>
<circle cx="245.64" cy="500.3" r="5.25" fill="#fa9c9c" stroke="#111" stroke-width="0.9"/>
<circle cx="275.63" cy="500.7" r="5.25" fill="#fa9c9c" stroke="#111" stroke-width="0.9"/>
<circle cx="305.61" cy="492.06" r="5.25" fill="#fa9c9c" stroke="#111" stroke-width="0.9"/>
<circle cx="335.59" cy="481.32" r="5.25" fill="#fa9c9c" stroke="#111" stroke-width="0.9"/>
<path d="M389.5 372.6V504.4H520" fill="none" stroke="#111" stroke-width="1.6"/>
<line x1="383.9" y1="504.4" x2="389.5" y2="504.4" stroke="#111" stroke-width="1.6"/>
<text x="382.7" y="508.88" font-size="12.8" font-weight="normal" text-anchor="end">0</text>
<line x1="383.9" y1="478.16" x2="389.5" y2="478.16" stroke="#111" stroke-width="1.6"/>
<text x="382.7" y="482.64" font-size="12.8" font-weight="normal" text-anchor="end">1</text>
<line x1="383.9" y1="451.92" x2="389.5" y2="451.92" stroke="#111" stroke-width="1.6"/>
<text x="382.7" y="456.4" font-size="12.8" font-weight="normal" text-anchor="end">2</text>
<line x1="383.9" y1="425.68" x2="389.5" y2="425.68" stroke="#111" stroke-width="1.6"/>
<text x="382.7" y="430.16" font-size="12.8" font-weight="normal" text-anchor="end">3</text>
<line x1="383.9" y1="399.44" x2="389.5" y2="399.44" stroke="#111" stroke-width="1.6"/>
<text x="382.7" y="403.92" font-size="12.8" font-weight="normal" text-anchor="end">4</text>
<line x1="383.9" y1="373.2" x2="389.5" y2="373.2" stroke="#111" stroke-width="1.6"/>
<text x="382.7" y="377.68" font-size="12.8" font-weight="normal" text-anchor="end">5</text>
<line x1="409.34" y1="504.4" x2="409.34" y2="509.8" stroke="#111" stroke-width="1.6"/>
<text x="408.14" y="522.8" font-size="12.8" font-weight="normal" text-anchor="middle">0h</text>
<line x1="439.46" y1="504.4" x2="439.46" y2="509.8" stroke="#111" stroke-width="1.6"/>
<text x="439.16" y="522.8" font-size="12.8" font-weight="normal" text-anchor="middle">1h</text>
<line x1="469.57" y1="504.4" x2="469.57" y2="509.8" stroke="#111" stroke-width="1.6"/>
<text x="468.37" y="522.8" font-size="12.8" font-weight="normal" text-anchor="middle">2h</text>
<line x1="499.69" y1="504.4" x2="499.69" y2="509.8" stroke="#111" stroke-width="1.6"/>
<text x="498.49" y="522.8" font-size="12.8" font-weight="normal" text-anchor="middle">4h</text>
<text x="403.8" y="405.5" font-size="22" stroke="#000" stroke-width="0.12">c</text>
<path d="M409.34 491.28 L439.46 487.48 L469.57 473.96 L499.69 416.5" fill="none" stroke="#0000ee" stroke-width="2.6" stroke-dasharray="3.7,6.2" stroke-dashoffset="0.4" stroke-linecap="round" stroke-linejoin="round"/>
<path d="M409.34 486.82V495.74M404.14 486.82H414.54M404.14 495.74H414.54" stroke="#3a3a3a" stroke-width="1.0" fill="none"/>
<path d="M439.46 480V494.95M434.26 480H444.66M434.26 494.95H444.66" stroke="#3a3a3a" stroke-width="1.0" fill="none"/>
<path d="M469.57 468.71V479.21M464.37 468.71H474.77M464.37 479.21H474.77" stroke="#3a3a3a" stroke-width="1.0" fill="none"/>
<path d="M499.69 394.19V438.28M494.49 394.19H504.89M494.49 438.28H504.89" stroke="#3a3a3a" stroke-width="1.0" fill="none"/>
<circle cx="409.34" cy="491.28" r="5.25" fill="#0000ee" stroke="#111" stroke-width="0.9"/>
<circle cx="439.46" cy="487.48" r="5.25" fill="#0000ee" stroke="#111" stroke-width="0.9"/>
<circle cx="469.57" cy="473.96" r="5.25" fill="#0000ee" stroke="#111" stroke-width="0.9"/>
<circle cx="499.69" cy="416.5" r="5.25" fill="#0000ee" stroke="#111" stroke-width="0.9"/>
<path d="M409.34 498.63 L439.46 499.94 L469.57 482.62 L499.69 457.69" fill="none" stroke="#8fbcf5" stroke-width="2.6" stroke-dasharray="3.7,6.2" stroke-dashoffset="0.4" stroke-linecap="round" stroke-linejoin="round"/>
<path d="M469.57 475.8V489.44M464.37 475.8H474.77M464.37 489.44H474.77" stroke="#3a3a3a" stroke-width="1.0" fill="none"/>
<path d="M499.69 445.88V469.5M494.49 445.88H504.89M494.49 469.5H504.89" stroke="#3a3a3a" stroke-width="1.0" fill="none"/>
<circle cx="409.34" cy="498.63" r="5.25" fill="#8fbcf5" stroke="#111" stroke-width="0.9"/>
<circle cx="439.46" cy="499.94" r="5.25" fill="#8fbcf5" stroke="#111" stroke-width="0.9"/>
<circle cx="469.57" cy="482.62" r="5.25" fill="#8fbcf5" stroke="#111" stroke-width="0.9"/>
<circle cx="499.69" cy="457.69" r="5.25" fill="#8fbcf5" stroke="#111" stroke-width="0.9"/>
<path d="M553.8 372.6V504.35H686" fill="none" stroke="#111" stroke-width="1.6"/>
<line x1="548.2" y1="504.35" x2="553.8" y2="504.35" stroke="#111" stroke-width="1.6"/>
<text x="547" y="508.83" font-size="12.8" font-weight="normal" text-anchor="end">0</text>
<line x1="548.2" y1="478.12" x2="553.8" y2="478.12" stroke="#111" stroke-width="1.6"/>
<text x="547" y="482.6" font-size="12.8" font-weight="normal" text-anchor="end">1</text>
<line x1="548.2" y1="451.89" x2="553.8" y2="451.89" stroke="#111" stroke-width="1.6"/>
<text x="547" y="456.37" font-size="12.8" font-weight="normal" text-anchor="end">2</text>
<line x1="548.2" y1="425.66" x2="553.8" y2="425.66" stroke="#111" stroke-width="1.6"/>
<text x="547" y="430.14" font-size="12.8" font-weight="normal" text-anchor="end">3</text>
<line x1="548.2" y1="399.43" x2="553.8" y2="399.43" stroke="#111" stroke-width="1.6"/>
<text x="547" y="403.91" font-size="12.8" font-weight="normal" text-anchor="end">4</text>
<line x1="548.2" y1="373.2" x2="553.8" y2="373.2" stroke="#111" stroke-width="1.6"/>
<text x="547" y="377.68" font-size="12.8" font-weight="normal" text-anchor="end">5</text>
<line x1="573.64" y1="504.35" x2="573.64" y2="509.75" stroke="#111" stroke-width="1.6"/>
<text x="572.44" y="522.75" font-size="12.8" font-weight="normal" text-anchor="middle">0h</text>
<line x1="603.76" y1="504.35" x2="603.76" y2="509.75" stroke="#111" stroke-width="1.6"/>
<text x="603.46" y="522.75" font-size="12.8" font-weight="normal" text-anchor="middle">1h</text>
<line x1="633.87" y1="504.35" x2="633.87" y2="509.75" stroke="#111" stroke-width="1.6"/>
<text x="632.67" y="522.75" font-size="12.8" font-weight="normal" text-anchor="middle">2h</text>
<line x1="663.99" y1="504.35" x2="663.99" y2="509.75" stroke="#111" stroke-width="1.6"/>
<text x="662.79" y="522.75" font-size="12.8" font-weight="normal" text-anchor="middle">4h</text>
<text x="565.1" y="404.7" font-size="22">d</text>
<path d="M573.64 499.37 L603.76 494.91 L633.87 494.38 L663.99 458.71" fill="none" stroke="#aa00dd" stroke-width="2.6" stroke-dasharray="3.7,6.2" stroke-dashoffset="0.4" stroke-linecap="round" stroke-linejoin="round"/>
<path d="M663.99 445.33V472.61M658.79 445.33H669.19M658.79 472.61H669.19" stroke="#3a3a3a" stroke-width="1.0" fill="none"/>
<circle cx="573.64" cy="499.37" r="5.25" fill="#aa00dd" stroke="#111" stroke-width="0.9"/>
<circle cx="603.76" cy="494.91" r="5.25" fill="#aa00dd" stroke="#111" stroke-width="0.9"/>
<circle cx="633.87" cy="494.38" r="5.25" fill="#aa00dd" stroke="#111" stroke-width="0.9"/>
<circle cx="663.99" cy="458.71" r="5.25" fill="#aa00dd" stroke="#111" stroke-width="0.9"/>
<path d="M573.64 501.46 L603.76 492.55 L633.87 491.76 L663.99 482.84" fill="none" stroke="#dd88f5" stroke-width="2.6" stroke-dasharray="3.7,6.2" stroke-dashoffset="0.4" stroke-linecap="round" stroke-linejoin="round"/>
<path d="M603.76 485.73V499.37M598.56 485.73H608.96M598.56 499.37H608.96" stroke="#3a3a3a" stroke-width="1.0" fill="none"/>
<circle cx="573.64" cy="501.46" r="5.25" fill="#dd88f5" stroke="#111" stroke-width="0.9"/>
<circle cx="603.76" cy="492.55" r="5.25" fill="#dd88f5" stroke="#111" stroke-width="0.9"/>
<circle cx="633.87" cy="491.76" r="5.25" fill="#dd88f5" stroke="#111" stroke-width="0.9"/>
<circle cx="663.99" cy="482.84" r="5.25" fill="#dd88f5" stroke="#111" stroke-width="0.9"/>
<path d="M60.15 522.8V654H191" fill="none" stroke="#111" stroke-width="1.6"/>
<line x1="54.55" y1="654" x2="60.15" y2="654" stroke="#111" stroke-width="1.6"/>
<text x="53.25" y="658.24" font-size="10.4" font-weight="bold" text-anchor="end">0.0</text>
<line x1="54.55" y1="610.47" x2="60.15" y2="610.47" stroke="#111" stroke-width="1.6"/>
<text x="53.25" y="614.71" font-size="10.4" font-weight="bold" text-anchor="end">0.5</text>
<line x1="54.55" y1="566.93" x2="60.15" y2="566.93" stroke="#111" stroke-width="1.6"/>
<text x="53.25" y="571.17" font-size="10.4" font-weight="bold" text-anchor="end">1.0</text>
<line x1="54.55" y1="523.4" x2="60.15" y2="523.4" stroke="#111" stroke-width="1.6"/>
<text x="53.25" y="527.64" font-size="10.4" font-weight="bold" text-anchor="end">1.5</text>
<line x1="80.04" y1="654" x2="80.04" y2="659.4" stroke="#111" stroke-width="1.6"/>
<text x="78.84" y="670.6" font-size="10.4" font-weight="bold" text-anchor="middle">0h</text>
<line x1="110.24" y1="654" x2="110.24" y2="659.4" stroke="#111" stroke-width="1.6"/>
<text x="109.94" y="670.6" font-size="10.4" font-weight="bold" text-anchor="middle">1h</text>
<line x1="140.44" y1="654" x2="140.44" y2="659.4" stroke="#111" stroke-width="1.6"/>
<text x="139.24" y="670.6" font-size="10.4" font-weight="bold" text-anchor="middle">2h</text>
<line x1="170.64" y1="654" x2="170.64" y2="659.4" stroke="#111" stroke-width="1.6"/>
<text x="169.44" y="670.6" font-size="10.4" font-weight="bold" text-anchor="middle">4h</text>
<text x="66.7" y="546.8" font-size="22">a</text>
<path d="M80.04 638.33 L110.24 634.85 L140.44 637.46 L170.64 637.89" fill="none" stroke="#b456d8" stroke-width="2.6" stroke-dasharray="3.7,6.2" stroke-dashoffset="0.4" stroke-linecap="round" stroke-linejoin="round"/>
<circle cx="80.04" cy="638.33" r="5.25" fill="#b456d8" stroke="#111" stroke-width="0.9"/>
<circle cx="110.24" cy="634.85" r="5.25" fill="#b456d8" stroke="#111" stroke-width="0.9"/>
<circle cx="140.44" cy="637.46" r="5.25" fill="#b456d8" stroke="#111" stroke-width="0.9"/>
<circle cx="170.64" cy="637.89" r="5.25" fill="#b456d8" stroke="#111" stroke-width="0.9"/>
<path d="M80.04 615.69 L110.24 612.64 L140.44 616.13 L170.64 612.64" fill="none" stroke="#0000ff" stroke-width="2.6" stroke-dasharray="3.7,6.2" stroke-dashoffset="0.4" stroke-linecap="round" stroke-linejoin="round"/>
<path d="M80.04 603.85V627.01M74.84 603.85H85.24M74.84 627.01H85.24" stroke="#3a3a3a" stroke-width="1.0" fill="none"/>
<path d="M110.24 595.14V629.62M105.04 595.14H115.44M105.04 629.62H115.44" stroke="#3a3a3a" stroke-width="1.0" fill="none"/>
<path d="M140.44 605.24V627.01M135.24 605.24H145.64M135.24 627.01H145.64" stroke="#3a3a3a" stroke-width="1.0" fill="none"/>
<path d="M170.64 599.15V626.14M165.44 599.15H175.84M165.44 626.14H175.84" stroke="#3a3a3a" stroke-width="1.0" fill="none"/>
<circle cx="80.04" cy="615.69" r="5.25" fill="#0000ff" stroke="#111" stroke-width="0.9"/>
<circle cx="110.24" cy="612.64" r="5.25" fill="#0000ff" stroke="#111" stroke-width="0.9"/>
<circle cx="140.44" cy="616.13" r="5.25" fill="#0000ff" stroke="#111" stroke-width="0.9"/>
<circle cx="170.64" cy="612.64" r="5.25" fill="#0000ff" stroke="#111" stroke-width="0.9"/>
<path d="M80.04 633.97 L110.24 643.55 L140.44 629.62 L170.64 622.22" fill="none" stroke="#ff0000" stroke-width="2.6" stroke-dasharray="3.7,6.2" stroke-dashoffset="0.4" stroke-linecap="round" stroke-linejoin="round"/>
<path d="M140.44 622.22V636.59M135.24 622.22H145.64M135.24 636.59H145.64" stroke="#3a3a3a" stroke-width="1.0" fill="none"/>
<path d="M170.64 613.95V630.49M165.44 613.95H175.84M165.44 630.49H175.84" stroke="#3a3a3a" stroke-width="1.0" fill="none"/>
<circle cx="80.04" cy="633.97" r="5.25" fill="#ff0000" stroke="#111" stroke-width="0.9"/>
<circle cx="110.24" cy="643.55" r="5.25" fill="#ff0000" stroke="#111" stroke-width="0.9"/>
<circle cx="140.44" cy="629.62" r="5.25" fill="#ff0000" stroke="#111" stroke-width="0.9"/>
<circle cx="170.64" cy="622.22" r="5.25" fill="#ff0000" stroke="#111" stroke-width="0.9"/>
<path d="M225.2 522.85V653.45H355.8" fill="none" stroke="#111" stroke-width="1.6"/>
<line x1="219.6" y1="653.45" x2="225.2" y2="653.45" stroke="#111" stroke-width="1.6"/>
<text x="218.4" y="657.93" font-size="12.8" font-weight="normal" text-anchor="end">0.0</text>
<line x1="219.6" y1="610.12" x2="225.2" y2="610.12" stroke="#111" stroke-width="1.6"/>
<text x="218.4" y="614.6" font-size="12.8" font-weight="normal" text-anchor="end">0.5</text>
<line x1="219.6" y1="566.78" x2="225.2" y2="566.78" stroke="#111" stroke-width="1.6"/>
<text x="218.4" y="571.26" font-size="12.8" font-weight="normal" text-anchor="end">1.0</text>
<line x1="219.6" y1="523.45" x2="225.2" y2="523.45" stroke="#111" stroke-width="1.6"/>
<text x="218.4" y="527.93" font-size="12.8" font-weight="normal" text-anchor="end">1.5</text>
<line x1="245.05" y1="653.45" x2="245.05" y2="658.85" stroke="#111" stroke-width="1.6"/>
<text x="243.85" y="671.85" font-size="12.8" font-weight="normal" text-anchor="middle">0h</text>
<line x1="275.19" y1="653.45" x2="275.19" y2="658.85" stroke="#111" stroke-width="1.6"/>
<text x="274.89" y="671.85" font-size="12.8" font-weight="normal" text-anchor="middle">1h</text>
<line x1="305.34" y1="653.45" x2="305.34" y2="658.85" stroke="#111" stroke-width="1.6"/>
<text x="304.14" y="671.85" font-size="12.8" font-weight="normal" text-anchor="middle">2h</text>
<line x1="335.48" y1="653.45" x2="335.48" y2="658.85" stroke="#111" stroke-width="1.6"/>
<text x="334.28" y="671.85" font-size="12.8" font-weight="normal" text-anchor="middle">4h</text>
<text x="235.1" y="546.7" font-size="22">b</text>
<path d="M245.05 629.18 L275.19 638.72 L305.34 625.72 L335.48 613.58" fill="none" stroke="#ff0000" stroke-width="2.6" stroke-dasharray="3.7,6.2" stroke-dashoffset="0.4" stroke-linecap="round" stroke-linejoin="round"/>
<path d="M245.05 621.82V636.12M239.85 621.82H250.25M239.85 636.12H250.25" stroke="#3a3a3a" stroke-width="1.0" fill="none"/>
<path d="M275.19 628.32V649.12M269.99 628.32H280.39M269.99 649.12H280.39" stroke="#3a3a3a" stroke-width="1.0" fill="none"/>
<path d="M305.34 616.18V635.25M300.14 616.18H310.54M300.14 635.25H310.54" stroke="#3a3a3a" stroke-width="1.0" fill="none"/>
<path d="M335.48 600.15V623.12M330.28 600.15H340.68M330.28 623.12H340.68" stroke="#3a3a3a" stroke-width="1.0" fill="none"/>
<circle cx="245.05" cy="629.18" r="5.25" fill="#ff0000" stroke="#111" stroke-width="0.9"/>
<circle cx="275.19" cy="638.72" r="5.25" fill="#ff0000" stroke="#111" stroke-width="0.9"/>
<circle cx="305.34" cy="625.72" r="5.25" fill="#ff0000" stroke="#111" stroke-width="0.9"/>
<circle cx="335.48" cy="613.58" r="5.25" fill="#ff0000" stroke="#111" stroke-width="0.9"/>
<path d="M245.05 636.98 L275.19 645.3 L305.34 632.65 L335.48 630.48" fill="none" stroke="#fa9c9c" stroke-width="2.6" stroke-dasharray="3.7,6.2" stroke-dashoffset="0.4" stroke-linecap="round" stroke-linejoin="round"/>
<path d="M275.19 640.45V649.98M269.99 640.45H280.39M269.99 649.98H280.39" stroke="#3a3a3a" stroke-width="1.0" fill="none"/>
<path d="M305.34 623.12V642.18M300.14 623.12H310.54M300.14 642.18H310.54" stroke="#3a3a3a" stroke-width="1.0" fill="none"/>
<path d="M335.48 623.98V636.98M330.28 623.98H340.68M330.28 636.98H340.68" stroke="#3a3a3a" stroke-width="1.0" fill="none"/>
<circle cx="245.05" cy="636.98" r="5.25" fill="#fa9c9c" stroke="#111" stroke-width="0.9"/>
<circle cx="275.19" cy="645.3" r="5.25" fill="#fa9c9c" stroke="#111" stroke-width="0.9"/>
<circle cx="305.34" cy="632.65" r="5.25" fill="#fa9c9c" stroke="#111" stroke-width="0.9"/>
<circle cx="335.48" cy="630.48" r="5.25" fill="#fa9c9c" stroke="#111" stroke-width="0.9"/>
<path d="M389.55 522.85V653.55H520" fill="none" stroke="#111" stroke-width="1.6"/>
<line x1="383.95" y1="653.55" x2="389.55" y2="653.55" stroke="#111" stroke-width="1.6"/>
<text x="382.75" y="658.03" font-size="12.8" font-weight="normal" text-anchor="end">0.0</text>
<line x1="383.95" y1="610.18" x2="389.55" y2="610.18" stroke="#111" stroke-width="1.6"/>
<text x="382.75" y="614.66" font-size="12.8" font-weight="normal" text-anchor="end">0.5</text>
<line x1="383.95" y1="566.82" x2="389.55" y2="566.82" stroke="#111" stroke-width="1.6"/>
<text x="382.75" y="571.3" font-size="12.8" font-weight="normal" text-anchor="end">1.0</text>
<line x1="383.95" y1="523.45" x2="389.55" y2="523.45" stroke="#111" stroke-width="1.6"/>
<text x="382.75" y="527.93" font-size="12.8" font-weight="normal" text-anchor="end">1.5</text>
<line x1="409.38" y1="653.55" x2="409.38" y2="658.95" stroke="#111" stroke-width="1.6"/>
<text x="408.18" y="671.95" font-size="12.8" font-weight="normal" text-anchor="middle">0h</text>
<line x1="439.49" y1="653.55" x2="439.49" y2="658.95" stroke="#111" stroke-width="1.6"/>
<text x="439.19" y="671.95" font-size="12.8" font-weight="normal" text-anchor="middle">1h</text>
<line x1="469.59" y1="653.55" x2="469.59" y2="658.95" stroke="#111" stroke-width="1.6"/>
<text x="468.39" y="671.95" font-size="12.8" font-weight="normal" text-anchor="middle">2h</text>
<line x1="499.7" y1="653.55" x2="499.7" y2="658.95" stroke="#111" stroke-width="1.6"/>
<text x="498.5" y="671.95" font-size="12.8" font-weight="normal" text-anchor="middle">4h</text>
<text x="402.6" y="547.5" font-size="22" stroke="#000" stroke-width="0.12">c</text>
<path d="M409.38 605.41 L439.49 579.83 L469.59 601.51 L499.7 598.47" fill="none" stroke="#0000ee" stroke-width="2.6" stroke-dasharray="3.7,6.2" stroke-dashoffset="0.4" stroke-linecap="round" stroke-linejoin="round"/>
<path d="M409.38 586.77V614.52M404.18 586.77H414.58M404.18 614.52H414.58" stroke="#3a3a3a" stroke-width="1.0" fill="none"/>
<path d="M439.49 546.87V612.79M434.29 546.87H444.69M434.29 612.79H444.69" stroke="#3a3a3a" stroke-width="1.0" fill="none"/>
<path d="M469.59 582.43V621.46M464.39 582.43H474.79M464.39 621.46H474.79" stroke="#3a3a3a" stroke-width="1.0" fill="none"/>
<path d="M499.7 575.49V620.59M494.5 575.49H504.9M494.5 620.59H504.9" stroke="#3a3a3a" stroke-width="1.0" fill="none"/>
<circle cx="409.38" cy="605.41" r="5.25" fill="#0000ee" stroke="#111" stroke-width="0.9"/>
<circle cx="439.49" cy="579.83" r="5.25" fill="#0000ee" stroke="#111" stroke-width="0.9"/>
<circle cx="469.59" cy="601.51" r="5.25" fill="#0000ee" stroke="#111" stroke-width="0.9"/>
<circle cx="499.7" cy="598.47" r="5.25" fill="#0000ee" stroke="#111" stroke-width="0.9"/>
<path d="M409.38 626.66 L439.49 637.94 L469.59 632.73 L499.7 631.87" fill="none" stroke="#8fbcf5" stroke-width="2.6" stroke-dasharray="3.7,6.2" stroke-dashoffset="0.4" stroke-linecap="round" stroke-linejoin="round"/>
<path d="M409.38 614.52V639.24M404.18 614.52H414.58M404.18 639.24H414.58" stroke="#3a3a3a" stroke-width="1.0" fill="none"/>
<path d="M439.49 631.87V644.01M434.29 631.87H444.69M434.29 644.01H444.69" stroke="#3a3a3a" stroke-width="1.0" fill="none"/>
<path d="M469.59 626.66V638.37M464.39 626.66H474.79M464.39 638.37H474.79" stroke="#3a3a3a" stroke-width="1.0" fill="none"/>
<path d="M499.7 626.23V637.94M494.5 626.23H504.9M494.5 637.94H504.9" stroke="#3a3a3a" stroke-width="1.0" fill="none"/>
<circle cx="409.38" cy="626.66" r="5.25" fill="#8fbcf5" stroke="#111" stroke-width="0.9"/>
<circle cx="439.49" cy="637.94" r="5.25" fill="#8fbcf5" stroke="#111" stroke-width="0.9"/>
<circle cx="469.59" cy="632.73" r="5.25" fill="#8fbcf5" stroke="#111" stroke-width="0.9"/>
<circle cx="499.7" cy="631.87" r="5.25" fill="#8fbcf5" stroke="#111" stroke-width="0.9"/>
<path d="M553.8 522.85V653.5H686" fill="none" stroke="#111" stroke-width="1.6"/>
<line x1="548.2" y1="653.5" x2="553.8" y2="653.5" stroke="#111" stroke-width="1.6"/>
<text x="547" y="657.98" font-size="12.8" font-weight="normal" text-anchor="end">0.0</text>
<line x1="548.2" y1="610.15" x2="553.8" y2="610.15" stroke="#111" stroke-width="1.6"/>
<text x="547" y="614.63" font-size="12.8" font-weight="normal" text-anchor="end">0.5</text>
<line x1="548.2" y1="566.8" x2="553.8" y2="566.8" stroke="#111" stroke-width="1.6"/>
<text x="547" y="571.28" font-size="12.8" font-weight="normal" text-anchor="end">1.0</text>
<line x1="548.2" y1="523.45" x2="553.8" y2="523.45" stroke="#111" stroke-width="1.6"/>
<text x="547" y="527.93" font-size="12.8" font-weight="normal" text-anchor="end">1.5</text>
<line x1="573.64" y1="653.5" x2="573.64" y2="658.9" stroke="#111" stroke-width="1.6"/>
<text x="572.44" y="671.9" font-size="12.8" font-weight="normal" text-anchor="middle">0h</text>
<line x1="603.76" y1="653.5" x2="603.76" y2="658.9" stroke="#111" stroke-width="1.6"/>
<text x="603.46" y="671.9" font-size="12.8" font-weight="normal" text-anchor="middle">1h</text>
<line x1="633.87" y1="653.5" x2="633.87" y2="658.9" stroke="#111" stroke-width="1.6"/>
<text x="632.67" y="671.9" font-size="12.8" font-weight="normal" text-anchor="middle">2h</text>
<line x1="663.99" y1="653.5" x2="663.99" y2="658.9" stroke="#111" stroke-width="1.6"/>
<text x="662.79" y="671.9" font-size="12.8" font-weight="normal" text-anchor="middle">4h</text>
<text x="564.6" y="546.7" font-size="22">d</text>
<path d="M573.64 636.59 L603.76 630.52 L633.87 639.19 L663.99 637.03" fill="none" stroke="#aa00dd" stroke-width="2.6" stroke-dasharray="3.7,6.2" stroke-dashoffset="0.4" stroke-linecap="round" stroke-linejoin="round"/>
<path d="M573.64 630.09V643.1M568.44 630.09H578.84M568.44 643.1H578.84" stroke="#3a3a3a" stroke-width="1.0" fill="none"/>
<path d="M603.76 618.82V642.23M598.56 618.82H608.96M598.56 642.23H608.96" stroke="#3a3a3a" stroke-width="1.0" fill="none"/>
<circle cx="573.64" cy="636.59" r="5.25" fill="#aa00dd" stroke="#111" stroke-width="0.9"/>
<circle cx="603.76" cy="630.52" r="5.25" fill="#aa00dd" stroke="#111" stroke-width="0.9"/>
<circle cx="633.87" cy="639.19" r="5.25" fill="#aa00dd" stroke="#111" stroke-width="0.9"/>
<circle cx="663.99" cy="637.03" r="5.25" fill="#aa00dd" stroke="#111" stroke-width="0.9"/>
<path d="M573.64 639.63 L603.76 638.33 L633.87 635.29 L663.99 638.33" fill="none" stroke="#dd88f5" stroke-width="2.6" stroke-dasharray="3.7,6.2" stroke-dashoffset="0.4" stroke-linecap="round" stroke-linejoin="round"/>
<path d="M603.76 631.39V645.26M598.56 631.39H608.96M598.56 645.26H608.96" stroke="#3a3a3a" stroke-width="1.0" fill="none"/>
<path d="M633.87 630.52V645.7M628.67 630.52H639.07M628.67 645.7H639.07" stroke="#3a3a3a" stroke-width="1.0" fill="none"/>
<path d="M663.99 630.52V643.96M658.79 630.52H669.19M658.79 643.96H669.19" stroke="#3a3a3a" stroke-width="1.0" fill="none"/>
<circle cx="573.64" cy="639.63" r="5.25" fill="#dd88f5" stroke="#111" stroke-width="0.9"/>
<circle cx="603.76" cy="638.33" r="5.25" fill="#dd88f5" stroke="#111" stroke-width="0.9"/>
<circle cx="633.87" cy="635.29" r="5.25" fill="#dd88f5" stroke="#111" stroke-width="0.9"/>
<circle cx="663.99" cy="638.33" r="5.25" fill="#dd88f5" stroke="#111" stroke-width="0.9"/>
<path d="M64.8 673.5V802.05H191.2" fill="none" stroke="#111" stroke-width="1.6"/>
<line x1="59.2" y1="802.05" x2="64.8" y2="802.05" stroke="#111" stroke-width="1.6"/>
<text x="57.9" y="806.29" font-size="10.4" font-weight="bold" text-anchor="end">0</text>
<line x1="59.2" y1="770.06" x2="64.8" y2="770.06" stroke="#111" stroke-width="1.6"/>
<text x="57.9" y="774.3" font-size="10.4" font-weight="bold" text-anchor="end">500</text>
<line x1="59.2" y1="738.08" x2="64.8" y2="738.08" stroke="#111" stroke-width="1.6"/>
<text x="57.9" y="742.32" font-size="10.4" font-weight="bold" text-anchor="end">1000</text>
<line x1="59.2" y1="706.09" x2="64.8" y2="706.09" stroke="#111" stroke-width="1.6"/>
<text x="57.9" y="710.33" font-size="10.4" font-weight="bold" text-anchor="end">1500</text>
<line x1="59.2" y1="674.1" x2="64.8" y2="674.1" stroke="#111" stroke-width="1.6"/>
<text x="57.9" y="678.34" font-size="10.4" font-weight="bold" text-anchor="end">2000</text>
<line x1="89.7" y1="802.05" x2="89.7" y2="807.45" stroke="#111" stroke-width="1.6"/>
<text x="89.7" y="818.65" font-size="10.4" font-weight="bold" text-anchor="middle">0h</text>
<line x1="127.87" y1="802.05" x2="127.87" y2="807.45" stroke="#111" stroke-width="1.6"/>
<text x="127.87" y="818.65" font-size="10.4" font-weight="bold" text-anchor="middle">2h</text>
<line x1="165.92" y1="802.05" x2="165.92" y2="807.45" stroke="#111" stroke-width="1.6"/>
<text x="165.92" y="818.65" font-size="10.4" font-weight="bold" text-anchor="middle">4h</text>
<text x="70.6" y="703.4" font-size="22">a</text>
<path d="M89.7 795.65 L127.87 712.74 L165.92 705.64" fill="none" stroke="#b456d8" stroke-width="2.6" stroke-dasharray="3.7,6.2" stroke-dashoffset="0.4" stroke-linecap="round" stroke-linejoin="round"/>
<path d="M127.87 704.49V720.99M122.67 704.49H133.07M122.67 720.99H133.07" stroke="#3a3a3a" stroke-width="1.0" fill="none"/>
<path d="M165.92 699.37V711.91M160.72 699.37H171.12M160.72 711.91H171.12" stroke="#3a3a3a" stroke-width="1.0" fill="none"/>
<circle cx="89.7" cy="795.65" r="5.25" fill="#b456d8" stroke="#111" stroke-width="0.9"/>
<circle cx="127.87" cy="712.74" r="5.25" fill="#b456d8" stroke="#111" stroke-width="0.9"/>
<circle cx="165.92" cy="705.64" r="5.25" fill="#b456d8" stroke="#111" stroke-width="0.9"/>
<path d="M89.7 792.01 L127.87 703.08 L165.92 717.86" fill="none" stroke="#0000ff" stroke-width="2.6" stroke-dasharray="3.7,6.2" stroke-dashoffset="0.4" stroke-linecap="round" stroke-linejoin="round"/>
<path d="M127.87 695.4V710.76M122.67 695.4H133.07M122.67 710.76H133.07" stroke="#3a3a3a" stroke-width="1.0" fill="none"/>
<path d="M165.92 713.12V722.59M160.72 713.12H171.12M160.72 722.59H171.12" stroke="#3a3a3a" stroke-width="1.0" fill="none"/>
<circle cx="89.7" cy="792.01" r="5.25" fill="#0000ff" stroke="#111" stroke-width="0.9"/>
<circle cx="127.87" cy="703.08" r="5.25" fill="#0000ff" stroke="#111" stroke-width="0.9"/>
<circle cx="165.92" cy="717.86" r="5.25" fill="#0000ff" stroke="#111" stroke-width="0.9"/>
<path d="M89.7 799.36 L127.87 726.5 L165.92 730.21" fill="none" stroke="#ff0000" stroke-width="2.6" stroke-dasharray="3.7,6.2" stroke-dashoffset="0.4" stroke-linecap="round" stroke-linejoin="round"/>
<path d="M127.87 720.8V732.19M122.67 720.8H133.07M122.67 732.19H133.07" stroke="#3a3a3a" stroke-width="1.0" fill="none"/>
<path d="M165.92 724.51V735.9M160.72 724.51H171.12M160.72 735.9H171.12" stroke="#3a3a3a" stroke-width="1.0" fill="none"/>
<circle cx="89.7" cy="799.36" r="5.25" fill="#ff0000" stroke="#111" stroke-width="0.9"/>
<circle cx="127.87" cy="726.5" r="5.25" fill="#ff0000" stroke="#111" stroke-width="0.9"/>
<circle cx="165.92" cy="730.21" r="5.25" fill="#ff0000" stroke="#111" stroke-width="0.9"/>
<path d="M228.2 673.6V801.5H355.8" fill="none" stroke="#111" stroke-width="1.6"/>
<line x1="222.6" y1="801.5" x2="228.2" y2="801.5" stroke="#111" stroke-width="1.6"/>
<text x="221.4" y="805.98" font-size="12.8" font-weight="normal" text-anchor="end">0</text>
<line x1="222.6" y1="769.68" x2="228.2" y2="769.68" stroke="#111" stroke-width="1.6"/>
<text x="221.4" y="774.16" font-size="12.8" font-weight="normal" text-anchor="end">500</text>
<line x1="222.6" y1="737.85" x2="228.2" y2="737.85" stroke="#111" stroke-width="1.6"/>
<text x="221.4" y="742.33" font-size="12.8" font-weight="normal" text-anchor="end">1000</text>
<line x1="222.6" y1="706.03" x2="228.2" y2="706.03" stroke="#111" stroke-width="1.6"/>
<text x="221.4" y="710.51" font-size="12.8" font-weight="normal" text-anchor="end">1500</text>
<line x1="222.6" y1="674.2" x2="228.2" y2="674.2" stroke="#111" stroke-width="1.6"/>
<text x="221.4" y="678.68" font-size="12.8" font-weight="normal" text-anchor="end">2000</text>
<line x1="253.34" y1="801.5" x2="253.34" y2="806.9" stroke="#111" stroke-width="1.6"/>
<text x="253.34" y="819.9" font-size="12.8" font-weight="normal" text-anchor="middle">0h</text>
<line x1="291.87" y1="801.5" x2="291.87" y2="806.9" stroke="#111" stroke-width="1.6"/>
<text x="291.87" y="819.9" font-size="12.8" font-weight="normal" text-anchor="middle">2h</text>
<line x1="330.28" y1="801.5" x2="330.28" y2="806.9" stroke="#111" stroke-width="1.6"/>
<text x="330.28" y="819.9" font-size="12.8" font-weight="normal" text-anchor="middle">4h</text>
<text x="238.7" y="704.2" font-size="22">b</text>
<path d="M253.34 798.19 L291.87 725.12 L330.28 730.21" fill="none" stroke="#ff0000" stroke-width="2.6" stroke-dasharray="3.7,6.2" stroke-dashoffset="0.4" stroke-linecap="round" stroke-linejoin="round"/>
<path d="M291.87 718.37V731.87M286.67 718.37H297.07M286.67 731.87H297.07" stroke="#3a3a3a" stroke-width="1.0" fill="none"/>
<path d="M330.28 719.2V741.92M325.08 719.2H335.48M325.08 741.92H335.48" stroke="#3a3a3a" stroke-width="1.0" fill="none"/>
<circle cx="253.34" cy="798.19" r="5.25" fill="#ff0000" stroke="#111" stroke-width="0.9"/>
<circle cx="291.87" cy="725.12" r="5.25" fill="#ff0000" stroke="#111" stroke-width="0.9"/>
<circle cx="330.28" cy="730.21" r="5.25" fill="#ff0000" stroke="#111" stroke-width="0.9"/>
<path d="M253.34 798.19 L291.87 728.88 L330.28 730.78" fill="none" stroke="#fa9c9c" stroke-width="2.6" stroke-dasharray="3.7,6.2" stroke-dashoffset="0.4" stroke-linecap="round" stroke-linejoin="round"/>
<path d="M291.87 720.28V737.47M286.67 720.28H297.07M286.67 737.47H297.07" stroke="#3a3a3a" stroke-width="1.0" fill="none"/>
<path d="M330.28 723.34V735.75M325.08 723.34H335.48M325.08 735.75H335.48" stroke="#3a3a3a" stroke-width="1.0" fill="none"/>
<circle cx="253.34" cy="798.19" r="5.25" fill="#fa9c9c" stroke="#111" stroke-width="0.9"/>
<circle cx="291.87" cy="728.88" r="5.25" fill="#fa9c9c" stroke="#111" stroke-width="0.9"/>
<circle cx="330.28" cy="730.78" r="5.25" fill="#fa9c9c" stroke="#111" stroke-width="0.9"/>
<path d="M392.25 673.6V801.55H520" fill="none" stroke="#111" stroke-width="1.6"/>
<line x1="386.65" y1="801.55" x2="392.25" y2="801.55" stroke="#111" stroke-width="1.6"/>
<text x="385.45" y="806.03" font-size="12.8" font-weight="normal" text-anchor="end">0</text>
<line x1="386.65" y1="769.71" x2="392.25" y2="769.71" stroke="#111" stroke-width="1.6"/>
<text x="385.45" y="774.19" font-size="12.8" font-weight="normal" text-anchor="end">500</text>
<line x1="386.65" y1="737.88" x2="392.25" y2="737.88" stroke="#111" stroke-width="1.6"/>
<text x="385.45" y="742.36" font-size="12.8" font-weight="normal" text-anchor="end">1000</text>
<line x1="386.65" y1="706.04" x2="392.25" y2="706.04" stroke="#111" stroke-width="1.6"/>
<text x="385.45" y="710.52" font-size="12.8" font-weight="normal" text-anchor="end">1500</text>
<line x1="386.65" y1="674.2" x2="392.25" y2="674.2" stroke="#111" stroke-width="1.6"/>
<text x="385.45" y="678.68" font-size="12.8" font-weight="normal" text-anchor="end">2000</text>
<line x1="417.42" y1="801.55" x2="417.42" y2="806.95" stroke="#111" stroke-width="1.6"/>
<text x="417.42" y="819.95" font-size="12.8" font-weight="normal" text-anchor="middle">0h</text>
<line x1="456" y1="801.55" x2="456" y2="806.95" stroke="#111" stroke-width="1.6"/>
<text x="456" y="819.95" font-size="12.8" font-weight="normal" text-anchor="middle">2h</text>
<line x1="494.45" y1="801.55" x2="494.45" y2="806.95" stroke="#111" stroke-width="1.6"/>
<text x="494.45" y="819.95" font-size="12.8" font-weight="normal" text-anchor="middle">4h</text>
<text x="406.3" y="704.8" font-size="22" stroke="#000" stroke-width="0.12">c</text>
<path d="M417.42 792.38 L456 714 L494.45 715.91" fill="none" stroke="#0000ee" stroke-width="2.6" stroke-dasharray="3.7,6.2" stroke-dashoffset="0.4" stroke-linecap="round" stroke-linejoin="round"/>
<path d="M456 701.13V727.56M450.8 701.13H461.2M450.8 727.56H461.2" stroke="#3a3a3a" stroke-width="1.0" fill="none"/>
<path d="M494.45 701.77V728.32M489.25 701.77H499.65M489.25 728.32H499.65" stroke="#3a3a3a" stroke-width="1.0" fill="none"/>
<circle cx="417.42" cy="792.38" r="5.25" fill="#0000ee" stroke="#111" stroke-width="0.9"/>
<circle cx="456" cy="714" r="5.25" fill="#0000ee" stroke="#111" stroke-width="0.9"/>
<circle cx="494.45" cy="715.91" r="5.25" fill="#0000ee" stroke="#111" stroke-width="0.9"/>
<path d="M417.42 795.37 L456 694.07 L494.45 720.17" fill="none" stroke="#8fbcf5" stroke-width="2.6" stroke-dasharray="3.7,6.2" stroke-dashoffset="0.4" stroke-linecap="round" stroke-linejoin="round"/>
<path d="M456 686.23V699.8M450.8 686.23H461.2M450.8 699.8H461.2" stroke="#3a3a3a" stroke-width="1.0" fill="none"/>
<path d="M494.45 710.11V730.23M489.25 710.11H499.65M489.25 730.23H499.65" stroke="#3a3a3a" stroke-width="1.0" fill="none"/>
<circle cx="417.42" cy="795.37" r="5.25" fill="#8fbcf5" stroke="#111" stroke-width="0.9"/>
<circle cx="456" cy="694.07" r="5.25" fill="#8fbcf5" stroke="#111" stroke-width="0.9"/>
<circle cx="494.45" cy="720.17" r="5.25" fill="#8fbcf5" stroke="#111" stroke-width="0.9"/>
<path d="M556.55 673.6V801.6H686" fill="none" stroke="#111" stroke-width="1.6"/>
<line x1="550.95" y1="801.6" x2="556.55" y2="801.6" stroke="#111" stroke-width="1.6"/>
<text x="549.75" y="806.08" font-size="12.8" font-weight="normal" text-anchor="end">0</text>
<line x1="550.95" y1="769.75" x2="556.55" y2="769.75" stroke="#111" stroke-width="1.6"/>
<text x="549.75" y="774.23" font-size="12.8" font-weight="normal" text-anchor="end">500</text>
<line x1="550.95" y1="737.9" x2="556.55" y2="737.9" stroke="#111" stroke-width="1.6"/>
<text x="549.75" y="742.38" font-size="12.8" font-weight="normal" text-anchor="end">1000</text>
<line x1="550.95" y1="706.05" x2="556.55" y2="706.05" stroke="#111" stroke-width="1.6"/>
<text x="549.75" y="710.53" font-size="12.8" font-weight="normal" text-anchor="end">1500</text>
<line x1="550.95" y1="674.2" x2="556.55" y2="674.2" stroke="#111" stroke-width="1.6"/>
<text x="549.75" y="678.68" font-size="12.8" font-weight="normal" text-anchor="end">2000</text>
<line x1="581.72" y1="801.6" x2="581.72" y2="807" stroke="#111" stroke-width="1.6"/>
<text x="581.72" y="820" font-size="12.8" font-weight="normal" text-anchor="middle">0h</text>
<line x1="620.3" y1="801.6" x2="620.3" y2="807" stroke="#111" stroke-width="1.6"/>
<text x="620.3" y="820" font-size="12.8" font-weight="normal" text-anchor="middle">2h</text>
<line x1="658.75" y1="801.6" x2="658.75" y2="807" stroke="#111" stroke-width="1.6"/>
<text x="658.75" y="820" font-size="12.8" font-weight="normal" text-anchor="middle">4h</text>
<text x="568.3" y="704" font-size="22">d</text>
<path d="M581.72 796.5 L620.3 711.15 L658.75 714.2" fill="none" stroke="#aa00dd" stroke-width="2.6" stroke-dasharray="3.7,6.2" stroke-dashoffset="0.4" stroke-linecap="round" stroke-linejoin="round"/>
<path d="M620.3 701.08V721.66M615.1 701.08H625.5M615.1 721.66H625.5" stroke="#3a3a3a" stroke-width="1.0" fill="none"/>
<path d="M658.75 707.32V720.38M653.55 707.32H663.95M653.55 720.38H663.95" stroke="#3a3a3a" stroke-width="1.0" fill="none"/>
<circle cx="581.72" cy="796.5" r="5.25" fill="#aa00dd" stroke="#111" stroke-width="0.9"/>
<circle cx="620.3" cy="711.15" r="5.25" fill="#aa00dd" stroke="#111" stroke-width="0.9"/>
<circle cx="658.75" cy="714.2" r="5.25" fill="#aa00dd" stroke="#111" stroke-width="0.9"/>
<path d="M581.72 796.5 L620.3 711.78 L658.75 699.36" fill="none" stroke="#dd88f5" stroke-width="2.6" stroke-dasharray="3.7,6.2" stroke-dashoffset="0.4" stroke-linecap="round" stroke-linejoin="round"/>
<path d="M620.3 705.54V717.9M615.1 705.54H625.5M615.1 717.9H625.5" stroke="#3a3a3a" stroke-width="1.0" fill="none"/>
<path d="M658.75 689.49V709.24M653.55 689.49H663.95M653.55 709.24H663.95" stroke="#3a3a3a" stroke-width="1.0" fill="none"/>
<circle cx="581.72" cy="796.5" r="5.25" fill="#dd88f5" stroke="#111" stroke-width="0.9"/>
<circle cx="620.3" cy="711.78" r="5.25" fill="#dd88f5" stroke="#111" stroke-width="0.9"/>
<circle cx="658.75" cy="699.36" r="5.25" fill="#dd88f5" stroke="#111" stroke-width="0.9"/>
<path d="M93.8 115.5 L87.9 115.5 L87.9 179.5 L93.8 179.5" fill="none" stroke="#000" stroke-width="1.6"/>
<path d="M101.4 115.5L93.8 111.4L93.8 119.6Z" fill="#ff0000" stroke="#000" stroke-width="1.1" stroke-linejoin="miter"/>
<path d="M101.4 179.5L93.8 175.4L93.8 183.6Z" fill="#0000ff" stroke="#000" stroke-width="1.1" stroke-linejoin="miter"/>
<path d="M71.5 351.6L64 347.8L64 355.4Z" fill="#0000ff" stroke="#000" stroke-width="1.1" stroke-linejoin="miter"/>
<path d="M71.5 356L64 352.2L64 359.8Z" fill="#b456d8" stroke="#000" stroke-width="1.1" stroke-linejoin="miter"/>
<path d="M154.7 476.3 L159.8 476.3 L159.8 494.7 L154.7 494.7" fill="none" stroke="#000" stroke-width="1.6"/>
<path d="M146.3 477.2L154.7 473.3L154.7 481.1Z" fill="#0000ff" stroke="#000" stroke-width="1.1" stroke-linejoin="miter"/>
<path d="M146.3 491.7L154.7 487.8L154.7 495.6Z" fill="#b456d8" stroke="#000" stroke-width="1.1" stroke-linejoin="miter"/>
<path d="M146.3 496.8L154.7 492.9L154.7 500.7Z" fill="#ff0000" stroke="#000" stroke-width="1.1" stroke-linejoin="miter"/>
<path d="M188.2 437 L193.6 437 L193.6 479.2 L188.2 479.2" fill="none" stroke="#000" stroke-width="1.6"/>
<path d="M179.4 437L188.2 433.1L188.2 440.9Z" fill="#0000ff" stroke="#000" stroke-width="1.1" stroke-linejoin="miter"/>
<path d="M179.4 479.2L188.2 475.3L188.2 483.1Z" fill="#ff0000" stroke="#000" stroke-width="1.1" stroke-linejoin="miter"/>
<path d="M105.4 703.8 L100.3 703.8 L100.3 726.3 L105.4 726.3" fill="none" stroke="#000" stroke-width="1.6"/>
<path d="M114.2 703.8L105.4 699.8L105.4 707.8Z" fill="#0000ff" stroke="#000" stroke-width="1.1" stroke-linejoin="miter"/>
<path d="M114.2 726.3L105.4 722.3L105.4 730.3Z" fill="#ff0000" stroke="#000" stroke-width="1.1" stroke-linejoin="miter"/>
<path d="M181.2 703.8 L184.1 703.8 L184.1 730 L181.2 730" fill="none" stroke="#000" stroke-width="1.6"/>
<path d="M173 703.8L181.2 699.8L181.2 707.8Z" fill="#b456d8" stroke="#000" stroke-width="1.1" stroke-linejoin="miter"/>
<path d="M173 730L181.2 726L181.2 734Z" fill="#ff0000" stroke="#000" stroke-width="1.1" stroke-linejoin="miter"/>
<path d="M81.8 797L73.1 793.1L73.1 800.9Z" fill="#b456d8" stroke="#000" stroke-width="1.1" stroke-linejoin="miter"/>
<path d="M81.8 793.2L73.1 789.3L73.1 797.1Z" fill="#0000ff" stroke="#000" stroke-width="1.1" stroke-linejoin="miter"/>
<path d="M81.8 801.4L73.1 797.5L73.1 805.3Z" fill="#ff0000" stroke="#000" stroke-width="1.1" stroke-linejoin="miter"/>
<path d="M106.9 84.15L106.9 90.45M104.17 85.72L109.63 88.88M109.63 85.72L104.17 88.88" stroke="#000" stroke-width="1.45" fill="none"/>
<path d="M114.9 84.15L114.9 90.45M112.17 85.72L117.63 88.88M117.63 85.72L112.17 88.88" stroke="#000" stroke-width="1.45" fill="none"/>
<path d="M308.3 136.35L308.3 142.65M305.57 137.93L311.03 141.07M311.03 137.93L305.57 141.07" stroke="#000" stroke-width="1.45" fill="none"/>
<path d="M469 140.8L470.4 132.8M471.6 140.8L473 132.8M468 135.4L474.1 135.4M467.9 138.3L474 138.3" stroke="#000" stroke-width="1.25" fill="none"/>
<path d="M75 323.4L76.4 315.4M77.6 323.4L79 315.4M74 318L80.1 318M73.9 320.9L80 320.9" stroke="#000" stroke-width="1.25" fill="none"/>
<path d="M303 235.8L304.4 227.8M305.6 235.8L307 227.8M302 230.4L308.1 230.4M301.9 233.3L308 233.3" stroke="#000" stroke-width="1.25" fill="none"/>
<path d="M407.2 322L408.6 314M409.8 322L411.2 314M406.2 316.6L412.3 316.6M406.1 319.5L412.2 319.5" stroke="#000" stroke-width="1.25" fill="none"/>
<path d="M435 303L436.4 295M437.6 303L439 295M434 297.6L440.1 297.6M433.9 300.5L440 300.5" stroke="#000" stroke-width="1.25" fill="none"/>
<path d="M170.4 396.85L170.4 403.15M167.67 398.43L173.13 401.57M173.13 398.43L167.67 401.57" stroke="#000" stroke-width="1.45" fill="none"/>
<path d="M137.9 418.35L137.9 424.65M135.17 419.93L140.63 423.07M140.63 419.93L135.17 423.07" stroke="#000" stroke-width="1.45" fill="none"/>
<path d="M133.65 426.35L133.65 432.65M130.92 427.93L136.38 431.07M136.38 427.93L130.92 431.07" stroke="#000" stroke-width="1.45" fill="none"/>
<path d="M141.65 426.35L141.65 432.65M138.92 427.93L144.38 431.07M144.38 427.93L138.92 431.07" stroke="#000" stroke-width="1.45" fill="none"/>
<path d="M78 733.2L79.4 725.2M80.6 733.2L82 725.2M77 727.8L83.1 727.8M76.9 730.7L83 730.7" stroke="#000" stroke-width="1.25" fill="none"/>
<path d="M76.65 736.55L76.65 742.85M73.92 738.12L79.38 741.28M79.38 738.12L73.92 741.28" stroke="#000" stroke-width="1.45" fill="none"/>
<path d="M84.65 736.55L84.65 742.85M81.92 738.12L87.38 741.28M87.38 738.12L81.92 741.28" stroke="#000" stroke-width="1.45" fill="none"/>
<path d="M73.1 745.05L73.1 751.35M70.37 746.62L75.83 749.78M75.83 746.62L70.37 749.78" stroke="#000" stroke-width="1.45" fill="none"/>
<path d="M81.1 745.05L81.1 751.35M78.37 746.62L83.83 749.78M83.83 746.62L78.37 749.78" stroke="#000" stroke-width="1.45" fill="none"/>
<path d="M89.1 745.05L89.1 751.35M86.37 746.62L91.83 749.78M91.83 746.62L86.37 749.78" stroke="#000" stroke-width="1.45" fill="none"/>
<path d="M126.5 691.6L127.9 683.6M129.1 691.6L130.5 683.6M125.5 686.2L131.6 686.2M125.4 689.1L131.5 689.1" stroke="#000" stroke-width="1.25" fill="none"/>
<path d="M166 685.15L166 691.45M163.27 686.72L168.73 689.88M168.73 686.72L163.27 689.88" stroke="#000" stroke-width="1.45" fill="none"/>
<text transform="translate(35.9 141) rotate(-90)" font-size="11.0" font-weight="bold" text-anchor="middle" textLength="71.3" lengthAdjust="spacingAndGlyphs">TNF-α, pg/mL</text>
<text transform="translate(38 290.5) rotate(-90)" font-size="12.8" font-weight="normal" text-anchor="middle" textLength="65.1" lengthAdjust="spacingAndGlyphs">IL-6, pg/mL</text>
<text transform="translate(38 439.5) rotate(-90)" font-size="11.4" font-weight="bold" text-anchor="middle" textLength="67.3" lengthAdjust="spacingAndGlyphs">IL-1β, pg/mL</text>
<text transform="translate(32.5 588.4) rotate(-90)" font-size="11.0" font-weight="bold" text-anchor="middle" textLength="19.4" lengthAdjust="spacingAndGlyphs">IL-2</text>
<text transform="translate(30.3 737.6) rotate(-90)" font-size="10.8" font-weight="bold" text-anchor="middle" textLength="65.8" lengthAdjust="spacingAndGlyphs">CCL2, ng/mL</text>
<text x="-0.8" y="88.8" font-size="16">A</text>
<text x="-0.8" y="238.3" font-size="16">B</text>
<text x="-0.8" y="395.9" font-size="16">C</text>
<text x="-0.8" y="547.1" font-size="16">D</text>
<text x="-0.8" y="679.2" font-size="16">E</text>
<text x="284.0" y="844.7" font-size="17.8" textLength="193" lengthAdjust="spacingAndGlyphs">Time Post-Challenge</text>
</svg></body></html>
